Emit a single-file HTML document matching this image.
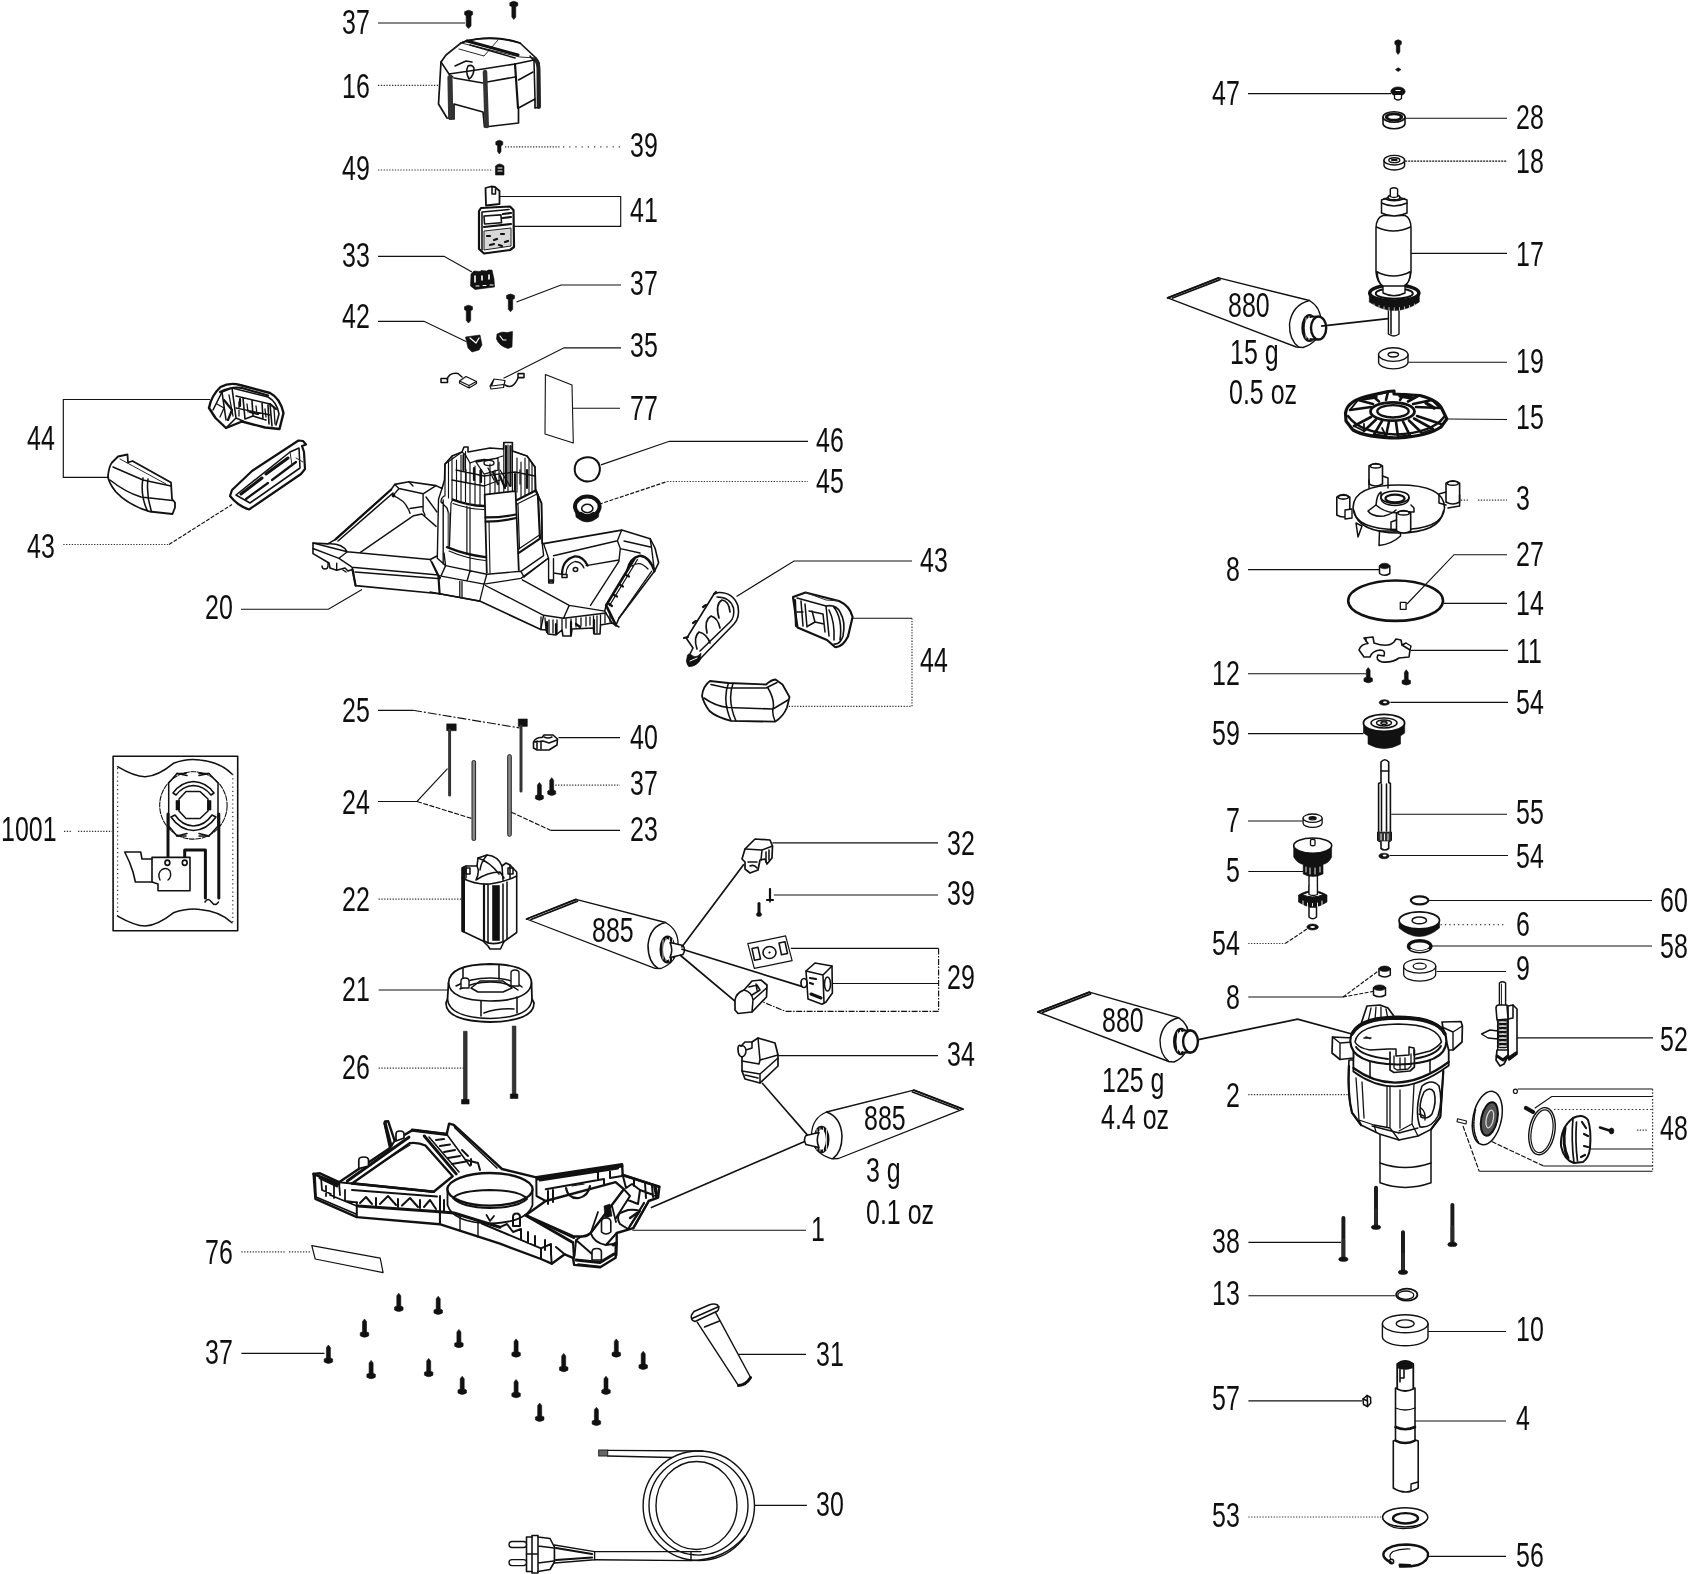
<!DOCTYPE html>
<html><head><meta charset="utf-8"><title>Exploded view</title>
<style>
html,body{margin:0;padding:0;background:#fff;}
svg{display:block;font-family:"Liberation Sans",sans-serif;}
text{fill:#0e0e0e;}
.ld{fill:none;stroke:#111;stroke-width:1.15;}
.dt{fill:none;stroke:#333;stroke-width:1.2;stroke-dasharray:1.3 1.5;}
.o{fill:#fff;stroke:#111;stroke-width:1.7;stroke-linejoin:round;stroke-linecap:round;}
.n{fill:none;stroke:#111;stroke-width:1.55;stroke-linejoin:round;stroke-linecap:round;}
.t{fill:none;stroke:#2a2a2a;stroke-width:1.0;stroke-linejoin:round;stroke-linecap:round;}
.h{fill:none;stroke:#111;stroke-width:2.2;stroke-linejoin:round;stroke-linecap:round;}
.hh{fill:none;stroke:#111;stroke-width:3;stroke-linejoin:round;stroke-linecap:round;}
.f{fill:#111;stroke:#111;stroke-width:0.6;stroke-linejoin:round;}
.g{fill:#777;stroke:#222;stroke-width:1;}
</style></head>
<body>
<svg width="1690" height="1574" viewBox="0 0 1690 1574">
<rect x="0" y="0" width="1690" height="1574" fill="#fff"/>
<g id="topleft">
<polyline class="ld" points="378,23 465,23" />
<path class="f" d="M464.6,11.7 Q468.6,8.7 472.6,11.7 L472.6,14.7 L471.05,15.7 L471.05,26.0 L468.6,28.5 L466.15000000000003,26.0 L466.15000000000003,15.7 L464.6,14.7 Z"/>
<path class="f" d="M509.79999999999995,2.7 Q513.8,-0.30000000000000004 517.8,2.7 L517.8,5.7 L515.75,6.7 L515.75,17.0 L513.8,19.5 L511.84999999999997,17.0 L511.84999999999997,6.7 L509.79999999999995,5.7 Z"/>
<polyline class="dt" points="378,85.3 438,85.3" />
<path class="o" d="M441,62 L446,55 L461,43 Q491,33 520,43 L536,58 L539,63 L540,107 L535,108 L535,99 L518.5,108 L518.5,123 L484.5,127 L483,112 L454,104 L454,119 L447,118 L438.5,104 Z" />
<path class="n" d="M461,43 L467,40.5 Q492,36 512,41 L520,43" />
<path class="t" d="M446,55 L461,43 L520,57 L536,58" />
<path class="t" d="M459,49 L484,56 L498,40" />
<path class="n" d="M441,62 L449,74 L483,69 L515,64 L534,60" />
<path class="n" d="M449,74 L453,77" />
<path class="n" d="M454,78 L483,83 M487,82 L515,77 M518.5,80 L533,72" />
<path class="n" d="M455,66 L466,61 L472,62 M468,66 Q465,72 469,79 Q474,76 474,68 Q472,64 468,66" />
<path class="hh" d="M467,41 L518,55" />
<path class="n" d="M470,45 L515,58" />
<path class="n" d="M450,77.5 L450.7,117.5"  style="stroke-width:5.2;stroke:#333;stroke-dasharray:1.6 0.5"/>
<path class="n" d="M485,72 L486.7,126"  style="stroke-width:4.6;stroke:#333;stroke-dasharray:1.6 0.5"/>
<path class="h" d="M515,64 L518,108" />
<path class="n" d="M535,59 Q538.5,62 538.5,70 L538.7,107"  style="stroke-width:4;stroke:#222"/>
<path class="n" d="M530,56 L534,61 L535,99" />
<path class="f" d="M495.8,141.7 Q499.3,138.7 502.8,141.7 L502.8,144.7 L501.0,145.7 L501.0,151.5 L499.3,154.0 L497.6,151.5 L497.6,145.7 L495.8,144.7 Z"/>
<polyline class="dt" points="505,146.8 560,146.8" />
<polyline class="dt" points="563,146.8 621,146.8"  style="stroke-dasharray:1.2 5"/>
<polyline class="dt" points="378,170 492,170" />
<path class="f" d="M495.5,166 Q499.5,162 504,166 L504,175 L495.5,175 Z" />
<path class="t" d="M498,168 L502,168 M498,171 L502,171"  style="stroke:#fff"/>
<polyline class="ld" points="500,196.5 620.7,196.5 620.7,226.3 513.5,226.3" />
<path class="o" d="M485.5,188 L491,186.5 L495,187 L499.5,191 L499.5,204 L486,205.5 Z"  style="stroke-width:1.8"/>
<path class="n" d="M492,187 L492,194 L495.5,194 L495.5,189" />
<path class="o" d="M479,211 L481,208 L510,206.5 L513.5,210 L514,247 L510,250 L484,253.5 L479,249 Z"  style="stroke-width:2.2"/>
<path class="n" d="M482,212 L509,209.5 M482,212 L482,250" />
<rect class="n" x="484" y="216" width="17" height="8" transform="rotate(-4 484 216)"/>
<path class="h" d="M503,214 L511,213 M503,218 L511,217 M484,227 L511,224" />
<path class="g" d="M484,231 L511,228 L511,246 L484,250 Z"  style="fill:#d8d8d8"/>
<path class="h" d="M487,236 L490,236 M494,240 L497,239 M501,234 L504,234 M505,242 L508,241 M490,245 L494,244 M499,245 L502,246" />
<polyline class="ld" points="378,256.3 444,256.3 472,272" />
<path class="f" d="M471,274 L474,271 L480,271.5 L481,270.5 L487,271 L488,270 L492,270 L494,279 L494.5,287 L475,289.5 L470.5,286 Z" />
<path class="t" d="M475,276 L475,282 M482,276 L482,280 M489,275 L489,279"  style="stroke:#fff;stroke-width:1.6"/>
<path class="t" d="M476,286 L479,286 M483,285.5 L486,285.5 M490,285 L493,285"  style="stroke:#fff;stroke-width:1"/>
<polyline class="ld" points="621,285 561,285 516.5,302" />
<path class="f" d="M506.5,295.5 Q510.5,292.5 514.5,295.5 L514.5,298.5 L512.7,299.5 L512.7,309.3 L510.5,311.8 L508.3,309.3 L508.3,299.5 L506.5,298.5 Z"/>
<path class="f" d="M464.5,306.7 Q468.5,303.7 472.5,306.7 L472.5,309.7 L470.7,310.7 L470.7,320.5 L468.5,323.0 L466.3,320.5 L466.3,310.7 L464.5,309.7 Z"/>
<polyline class="ld" points="378,321.3 424,321.3 466,341.5" />
<path class="f" d="M465.5,337 L480,335 L482,345 L479,350 L472,352 L468,348 Z" />
<path class="t" d="M470,338 L476,343 L479,338"  style="stroke:#fff;stroke-width:1.2"/>
<path class="f" d="M497,334 Q502,331 507,332.5 L512.5,331.5 L512,347 L508,348.5 Q499,346 496.5,339 Z" />
<path class="t" d="M500,336 L503,340 L506,340"  style="stroke:#fff;stroke-width:1.2"/>
<polyline class="ld" points="621,347.8 564,347.8 503.5,378.3" />
<rect class="n" x="441" y="378.5" width="6.5" height="4" />
<path class="n" d="M447,379 Q450,372 458,373.5 L462,377" />
<path class="o" d="M459.5,381 L466,376.5 L476.5,381.5 L476.5,383.5 L469,388 L459.5,383 Z M459.5,381 L469,385.5 L476.5,381.5 M469,385.5 L469,388"  style="stroke-width:1.2"/>
<path class="o" d="M490,386 L494,379 L505,380.5 L503.5,387.5 L491,389 Z M494,379 L491.5,386 L503.5,384.5"  style="stroke-width:1.2"/>
<path class="n" d="M505,385 Q513,390 518,378" />
<rect class="n" x="518" y="373.6" width="6" height="4" />
<path class="o" d="M545.4,374.5 L572,385 L573.3,443 L545,434 Z"  style="stroke-width:1.1"/>
<polyline class="ld" points="573,408.2 620,408.2" />
</g>
<g id="handlesL">
<polyline class="ld" points="210,399.5 63.3,399.5 63.3,477.4 108,477.4" />
<path class="o" d="M209,408 Q211,396 220.5,387 Q230,382 240,385 L270,393 Q280,398 283.5,413 L279.5,429 L265,427.5 L242,421.5 L226,428 L215.5,418 Z"  style="stroke-width:2.4"/>
<path class="n" d="M213,410 L222,392 L232,388 L268,397 Q277,402 279,414 L276,425"  style="stroke-width:1.6"/>
<path class="n" d="M222,392 L226,420 M232,388 L236,418 L226,428 M236,396 L270,404 L272,426 M236,418 L243,421 M243,398 L245,419 M252,401 L253,416 L245,419 M253,416 L266,420 M262,403 L263,419 M268,405 L269,424"  style="stroke-width:1.6"/>
<path class="n" d="M236,408 L270,415 M239,402 L239,416 M247,404 L248,412 M256,406 L257,414 M265,409 L266,417 M274,408 L275,424 M229,395 L233,416 M217,404 L224,408 L220,417"  style="stroke-width:1.3"/>
<path class="h" d="M224,400 L232,410 L228,420 M240,399 L240,406 M250,412 L258,414 M270,404 L276,409" />
<path class="n" d="M220,392 Q232,386 242,388 L268,395.5"  style="stroke-width:2.2"/>
<path class="o" d="M118,456.5 L127.5,454.5 L128,462.5 L132.5,461 L171,482.5 L172,499 L175,502.5 L175,507.5 L172.5,514 L149.5,511.5 Q128,505 116,492 Q108,482 108,476 Q109,466 112,462.5 Z"  style="stroke-width:1.8"/>
<path class="n" d="M113,467 L143,480 L171,486 M110,480 Q125,492 141,497 L172.5,500.5 M143,478 Q140,495 147.5,511 M148,479 Q146,495 151.5,511.5" />
<path class="t" d="M120,459 L166,484" />
<path class="o" d="M298.5,440.5 L303,441 L306,444.5 L302,446 L304,452 L305,469 L301,474 L249,509.5 Q238,506 230,496 L232,490 L252,471 Z"  style="stroke-width:2.2"/>
<path class="n" d="M236,495 L290,452 L299,448 L300,468 L250,503 Z" />
<path class="hh" d="M241,494 L262,478 M266,474 L288,458" />
<path class="h" d="M246,499 L268,483 M272,480 L296,462" />
<path class="t" d="M290,452 L292,465 M296,458 L303,462" />
<polyline class="dt" points="63.3,544.5 169,544.5" />
<polyline class="ld" points="169,544.5 232,504.5"  style="stroke-dasharray:4 1.5"/>
</g>
<g id="housing20">
<polyline class="ld" points="241,609.2 328.4,609.2 362,589.5" />
<path class="o" d="M313,543 L327.8,543.9 L335.5,539.4 L391,489.7 L394.7,484.4 L408.9,481.7 L436,485.6 L442,488.5 L444.5,480 L445,464 L452,456 L462,452 L464,447 L468,447 L468,452 L490,448 L503.5,449 L503.8,442.5 L512.4,442.5 L512.4,451 L527,456 L535,467 L535.8,490.4 L541.5,503.2 L542.2,543 L543.6,543.6 L621.7,530.1 L650.1,538.7 L655,548 L658.6,562.8 L654.4,571.3 L618.9,618.2 L616,625.3 L612,623 L600.5,625 L600,634 L594,634 L593.5,628 L572,629 L571,636 L563,636 L562,630 L556,635 L548,634 L546,630 L540.8,629.5 L479.7,601.1 L439.6,593.8 L355.6,585.6 L352.5,569.5 L348,571 L345,568 L336.7,570.2 L330,568 L329,563 L313,553.6 Z"  style="stroke-width:1.6"/>
<path class="n" d="M313,543 L347.3,551.8 L430.2,559.5 L438.5,577.3 M327.8,543.9 Q342,543 347.3,551.8 M313,548.5 L339,558.3 L352,567.2 L438.5,575 M339,558.3 L347.3,551.8 M336.7,563.1 L336.7,570.2 M352,567.2 L352.5,569.5 M355,572 L437.5,578.5"  style="stroke-width:1.4"/>
<path class="h" d="M352.5,569.5 L355.6,585.6" />
<path class="h" d="M335.5,539.4 L391,489.7" />
<path class="n" d="M338,541 L393,493" />
<path class="n" d="M360.4,552.4 L413.6,515.7 L421.9,514 L436.1,526.4 M392.9,495.6 Q406,500 410,513.4 M410,508.5 L423,506.5 M394.7,484.4 L399,488.5 L423.1,493.8 L436,485.6 M423.1,493.8 L423.1,511 L425,515 M399,488.5 L392.9,495.6 M408.9,481.7 L413,486 M426,497 L437,512"  style="stroke-width:1.4"/>
<ellipse class="n" cx="393.5" cy="495.5" rx="1.2" ry="1.2" />
<path class="n" d="M430.2,559.5 L437,556 M432,562 L440,578" />
<path class="n" d="M322,566 Q322,569 325,569 Q328,569 328,566 L328,563 M343,570 L346,572"  style="stroke-width:1.4"/>
<path class="n" d="M442,488.5 L438.5,499.2 L437.3,558.3 L445.6,565.6 M444.2,496 Q441,498 441,502 L447,508 L448.5,513 M443.2,500 L443.2,564"  style="stroke-width:1.4"/>
<path class="n" d="M448.7,513.4 L448.7,546.5"  style="stroke-width:2.4;stroke:#666"/>
<path class="n" d="M452.7,499.6 Q468,505.5 484,506 M447,547.2 Q466,555 485.4,557.1"  style="stroke-width:2.4"/>
<path class="n" d="M452.7,499.6 L451,503 L449.5,546 M453,503.5 Q468,509 484,509.5 M449,551 Q466,558.5 485.4,560.5 M466.9,506 L466.9,553.6 M470,507 L470,572"  style="stroke-width:1.2"/>
<path class="n" d="M484.7,494.6 L515.2,491.1 M484.7,494.6 L486.8,572.7 M515.6,491.5 L518.8,570"  style="stroke-width:1.8"/>
<path class="n" d="M485.5,517.4 Q501,517.5 515.8,514.5 M485.7,521.6 Q501,521.5 516,518"  style="stroke-width:2.2"/>
<path class="n" d="M489,521.5 L490,573"  style="stroke-width:1.1"/>
<path class="n" d="M516.6,500.3 L535.8,490.4 M518.8,552.9 L540,538.7 M535.8,490.4 L538,496 L540,538.7"  style="stroke-width:2.2"/>
<path class="n" d="M517,504 L536,494.5 M518.7,549 L539.5,535 M518,504 L519.5,549"  style="stroke-width:1.2"/>
<path class="n" d="M535.8,490.4 L541.5,503.2 L542.2,543"  style="stroke-width:1.5"/>
<path class="n" d="M445,464 L445,496 M448.5,462 L448.5,498 M452,456 L452,499 M456.5,460 L456.5,500 M461,455 L461,501 M465.5,451.5 L465.5,502 M470,463 L470,503 M475,466 L475,504 M480,470 L480,505 M484.7,475 L484.7,495 M490,464 L490,494 M495,470 L495,493 M499,462 L499,492.5 M503.8,442.5 L503.8,492 M508,445 L508,492 M512.4,442.5 L512.4,491 M517,458 L517,492 M521,462 L521,497 M525,458 L525,495 M529,460 L529,493 M532,463 L532,492 M535,467 L535,490"  style="stroke-width:1.15"/>
<path class="n" d="M445,464 L462,452 L465.5,455 L470,463 M470,463 Q480,458 490,460 L503,456 M512.4,451 L527,456 L535,467 M456,470 L484,476 L515,472 L535,476 M452,480 L484,486 L500,480 M476,462 L498,458 L498,470 L484,474 Z M466,470 L466,482 M488,468 L494,480 M500,470 L510,486 M520,470 L520,484"  style="stroke-width:1.3"/>
<path class="h" d="M463.5,455 L463.5,470 M506,446 L506,486 M510.5,446 L510.5,486 M474,468 L474,480 M481,470 L481,482 M493,472 L498,484 M500,476 L505,488 M515,474 L515,490 M527,470 L527,488" />
<ellipse class="n" cx="489" cy="463" rx="5" ry="2.6"  style="stroke-width:1.4"/>
<path class="n" d="M444,553 L445.6,565.6 L486.8,574.2 L520.9,571.3 L543.6,555.7 L542.2,543 M438.5,575.6 L484,584.1 L520.9,578.4 L547.9,558.5 M445.6,565.6 L439.6,579 M486.8,574.2 L484,584.1 M520.9,571.3 L524,577 M470,571 L467,581"  style="stroke-width:1.4"/>
<path class="n" d="M430,592 L479.7,601.1 M459.8,581.3 L459.8,597 M484,584.1 L479.7,601.1 M462,581.5 L462,597.5"  style="stroke-width:1.3"/>
<path class="h" d="M438.5,577.3 L439.6,593.8" />
<path class="n" d="M485.4,585.5 L543.6,615.3 L540.8,629.5 M522.3,579.8 L569.2,605.4 L604.7,611.1 M569.2,605.4 L563.5,618.2 M543.6,615.3 L563.5,618.2 L606,613 M524,577 L547.9,558.5"  style="stroke-width:1.4"/>
<path class="n" d="M541,617 L541,629 M545,618 L546,630 M549,620 L549,633 M553,620 L553,633 M557,620 L557,634 M562,619 L562,630 M566,619 L566,628 M571,619 L571,636 M576,618 L576,627 M581,618 L581,626 M586,617 L586,626 M590,617 L590,625 M593.5,616 L593.5,628 M597,616 L597,633 M600.5,615 L600.5,625 M605,614 L605,623 M610,613 L610,622"  style="stroke-width:1.3"/>
<path class="h" d="M547,622 L547,632 M556,624 L556,634 M571,622 L571,635 M576,624 L580,627 M594,620 L594,633" />
<path class="n" d="M543.6,543.6 L548.6,558.5 L548.6,581.3 L553.5,581.3 L553.5,558.5 M553.5,555.7 L617.4,540.8 L621.7,530.1 M617.4,540.8 L620.3,548.6 L640,553 M624,541 L651.5,547.2 L654.4,571.3 M650.1,538.7 L651.5,547.2 M586.2,565.6 L618.9,560 M553.5,573 L562,574.2 M618.9,561.4 L590.5,605.4 M620.3,548.6 L618.9,561.4"  style="stroke-width:1.4"/>
<path class="n" d="M562.1,574.2 Q562,560 574.8,556.4 Q583,556 587.6,565.6"  style="stroke-width:2.2"/>
<path class="n" d="M566,574 Q566.5,564 575,561.5 Q581,561.5 584,568"  style="stroke-width:1.3"/>
<ellipse class="n" cx="575.5" cy="569.5" rx="2.2" ry="2" />
<rect class="n" x="562" y="574.5" width="5" height="3" />
<rect class="n" x="548.8" y="580" width="4.5" height="3" />
<path class="n" d="M627.4,569.9 Q630,558 640.2,555.7 Q650,557 654.4,571.3"  style="stroke-width:2.4"/>
<path class="n" d="M634.5,558.5 L606.1,605.4 L616,625.3"  style="stroke-width:2.6"/>
<path class="n" d="M651.5,571.3 L618.9,618.2 M637.5,559.5 L609.5,605.5 M632,566 Q640,560 648,569"  style="stroke-width:1.3"/>
<path class="h" d="M626,575 L629,576.5 M620,585 L623,586.5 M614,595 L617,596.5 M609,604 L612,606" />
<path class="n" d="M606.1,605.4 L604.7,611.1 L612,623 M616,625.3 L619,627"  style="stroke-width:1.5"/>
</g>
<g id="p4645">
<path class="n" d="M587.3,457.3 Q593,457 597,461 Q600.3,465 599.8,470.5 Q599,476 595,479.5 Q590,482.5 584,481 Q578,479 575.5,474 Q573.5,468 576.5,462.5 Q580,457.8 587.3,457.3 Z"  style="stroke-width:2"/>
<polyline class="ld" points="601,464.9 669.4,441.3 808,441.3" />
<path class="f" d="M575,507 L576,517 Q587,527 598.5,517 L599.6,507 Z" />
<ellipse class="o" cx="587.3" cy="506.5" rx="12.3" ry="10"  style="stroke-width:4"/>
<ellipse class="o" cx="587.3" cy="508.5" rx="5.6" ry="4.2"  style="stroke-width:1.6"/>
<path class="n" d="M581,513 Q587,517.5 593.5,513"  style="stroke-width:2.2"/>
<polyline class="ld" points="599,504.3 667.3,481.5"  style="stroke-dasharray:4 1.5"/>
<polyline class="dt" points="667.3,481.5 808,481.5" />
</g>
<g id="handlesR">
<polyline class="ld" points="912,561 794,561 736.5,596.5" />
<path class="o" d="M718.5,592.5 Q733,592 738,606 Q740,618 734,624 L701,658 Q697,666 689,666 Q685,661 689,656 L693,648 L686.5,638.5 L714,594 Z"  style="stroke-width:1.6"/>
<path class="n" d="M717,597 Q730,597 733.5,608 Q735,617 730,622 L700,651" />
<path class="n" d="M719,618 Q715,604 722,600 Q729,601 730,612 M707,633 Q704,620 711,616 Q718,618 720,628 M697,649 Q693,637 699,632 Q707,634 710,643"  style="stroke-width:1.7"/>
<path class="f" d="M687.5,655 Q689,652.5 693,656 Q697,658 701,653 L700.5,659 Q696,666.5 689,666.5 Q685.5,662 687.5,655 Z" />
<path class="t" d="M690,661 L697,658"  style="stroke:#fff;stroke-width:1"/>
<path class="h" d="M714,594 L716,592 M703,607 L706,605 M693,623 L696,621 M684,638 L688,637" />
<path class="o" d="M793,597 L805.5,592.5 L839,601 Q850,606 852.6,617 L848,636.5 Q842,648 835,647 L827,640 L797.5,627.5 Z"  style="stroke-width:2.2"/>
<path class="n" d="M797,598 L826,606 L829,636 M801,601 L803,626 M797,612 L803,612 M805,604 L807,627 M809,611 L823,614 L825,632 M812,611 L815,622 L824,624 M815,622 L808,626" />
<path class="n" d="M826,606 Q836,604 840,612 Q846,622 843,636 Q840,645 834,644 M829,610 Q835,622 834,640 M833,606 Q843,618 840,640"  style="stroke-width:1.6"/>
<path class="t" d="M805.5,592.5 L826,600 L839,601" />
<path class="h" d="M795,600 L796,626" />
<polyline class="ld" points="852.6,618.2 912,618.2" />
<polyline class="dt" points="912,618.2 912,706.3 788.7,706.3" />
<path class="o" d="M702,696 Q703,686 710,681 L728,683 L766,684.5 Q771,680 775.5,679.5 L782.5,684.5 L789.5,697 L787,707.5 Q783,717 775,721.7 L731,720.8 Q716,717 709.5,711 Q704,704 702,696 Z"  style="stroke-width:1.8"/>
<path class="n" d="M711,684.5 L727,688 L766,688 L777,682.5 M704,698 Q715,706 728,707.5 L773,709 L788,700 M728.5,683 Q722,700 731,720.8 M733,683.5 Q727,700 736,721 M773,709 Q775,700 768,688 M775,721 Q772,714 773,709" />
</g>
<g id="box1001">
<polyline class="dt" points="64,831.4 72,831.4" />
<polyline class="dt" points="78,831.4 112,831.4" />
<rect class="n" x="113.1" y="756.3" width="124.6" height="174.5"  style="stroke-width:1.6"/>
<polyline class="dt" points="117.6,768 117.6,916"  style="stroke-dasharray:1.2 3"/>
<polyline class="dt" points="232.8,774 232.8,922"  style="stroke-dasharray:1.2 3"/>
<path class="n" d="M117.6,766.7 Q135,777 145.4,776.7 Q158,776 173.4,763.3 Q187,758 200,760 Q220,762 232,774" />
<path class="n" d="M117.6,916.1 Q135,926 145.4,926 Q158,925 173.4,912.8 Q187,908 200,909.4 Q220,911 232,922.8" />
<ellipse class="n" cx="193.4" cy="805.4" rx="33.7" ry="33.7"  style="stroke-dasharray:5 1.5;stroke-width:1.1"/>
<path class="n" d="M177,773.5 L186,773.5 M199,773.5 L209,773.5 L218,783 L218,826 L209,836 L199,836 M186,836 L177,836 L168.7,826 L168.7,783 L177,773.5"  style="stroke-width:1.5"/>
<path class="n" d="M177,773.5 L187,775.5 M199,775.5 L209,773.5 M177,836 L187,833.5 M199,833.5 L209,836" />
<path class="n" d="M173,793 Q181,782 193.4,781.5 Q206,782 214,793 M176,795 Q183,786 193.4,785.5 Q204,786 211,795 M176,795 L173,793 M211,795 L214,793" />
<path class="n" d="M171,817 Q180,830 193.4,830.5 Q207,830 216,817 M175,815 Q182,825.5 193.4,826 Q205,825.5 212,815 M171,817 L175,815 M216,817 L212,815"  style="stroke-width:1.6"/>
<path class="n" d="M186,791.5 L200,791.5 L208,799 L208,811 L200,818.5 L186,818.5 L179,811 L179,799 Z"  style="stroke-dasharray:6 1"/>
<rect class="f" x="176" y="800.5" width="3.5" height="9.5" />
<rect class="f" x="207.5" y="800.5" width="3.5" height="9.5" />
<path class="hh" d="M168,814 L168,860" />
<path class="hh" d="M218.8,814 L218.8,898" />
<path class="hh" d="M184.7,860 L184.7,850 L205.4,850 L205.4,898" />
<path class="n" d="M205,902 Q208,897 211.5,902 Q215,907 218.5,902"  style="stroke-width:1.5"/>
<path class="o" d="M152,857.4 L190,857.4 L190,890.7 L158,890.7 L158,884 L152,882 Z"  style="stroke-width:1.6"/>
<polyline class="dt" points="152,858 152,882"  style="stroke-dasharray:1.5 2"/>
<ellipse class="o" cx="167.4" cy="862.7" rx="2.4" ry="2.6" />
<ellipse class="o" cx="184.7" cy="862.7" rx="2.4" ry="2.6" />
<path class="n" d="M160,880 Q157,873 162,869.5 Q167,867 170,871 Q172,877 168,880"  style="stroke-width:1.4"/>
<path class="n" d="M152,859 L142,859 L140.7,852 L124.7,852 Q130,862 133,872 L135.4,882 L152,882"  style="stroke-width:1.6"/>
</g>
<g id="rods">
<polyline class="ld" points="378,710.3 413,710.3" />
<polyline class="ld" points="413,710.3 519.4,727.9"  style="stroke-dasharray:9 2 2 2"/>
<rect class="f" x="446.7" y="723.9" width="9.5" height="6.8" />
<path class="n" d="M449.6,730 L449.6,795"  style="stroke-width:3;stroke:#333;stroke-dasharray:1.5 0.5"/>
<rect class="f" x="518.3" y="719" width="9" height="7.4" />
<path class="n" d="M521,726 L521,791"  style="stroke-width:3;stroke:#333;stroke-dasharray:1.5 0.5"/>
<polyline class="ld" points="378,801.5 417,801.5 447.5,768.6" />
<polyline class="ld" points="417,801.5 472,818.6"  style="stroke-dasharray:5 1.5"/>
<rect class="g" x="472" y="760.5" width="3.6" height="80" rx="1.5" style="fill:#888"/>
<rect class="g" x="507.7" y="754.7" width="3.6" height="81.5" rx="1.5" style="fill:#888"/>
<polyline class="ld" points="511.4,812.2 550.5,830.3"  style="stroke-dasharray:5 1.5"/>
<polyline class="ld" points="550.5,830.3 620,830.3" />
<path class="o" d="M533.5,742 Q536,737 542,737.5 L544,735 L553,735 L557.5,739 L557,745 L549,750 L537,750 L533.5,748 Z"  style="stroke-width:1.6"/>
<path class="n" d="M537,741 L537,749 M541,741 L541,749 M534,742 L543,741 L549,743 L557,740 M544,737 Q548,739 552,737" />
<polyline class="ld" points="558.5,737.6 620,737.6" />
<g transform="rotate(180 539.4 791.5)">
<path class="f" d="M535.4,784.2 Q539.4,781.2 543.4,784.2 L543.4,787.2 L541.35,788.2 L541.35,798.0 L539.4,800.5 L537.4499999999999,798.0 L537.4499999999999,788.2 L535.4,787.2 Z"/>
</g>
<g transform="rotate(180 551.7 786.5)">
<path class="f" d="M547.7,779.0 Q551.7,776.0 555.7,779.0 L555.7,782.0 L553.6500000000001,783.0 L553.6500000000001,792.8 L551.7,795.3 L549.75,792.8 L549.75,783.0 L547.7,782.0 Z"/>
</g>
<polyline class="dt" points="555.3,785.2 620,785.2" />
</g>
<g id="stator">
<polyline class="dt" points="378.6,899.2 461.8,899.2" />
<path class="o" d="M462,868 L462,931 L483,941 L488,946 L490,949 L500.5,949 L504,941.5 L516.7,932.5 L516.7,872 L510,865 L506,863 L502,866 Q498,856 487,855 L478,858 L477,866 L466,866 Z"  style="stroke-width:1.6"/>
<path class="hh" d="M463.5,868 L463.5,931" />
<path class="n" d="M462,878 Q476,885 490,884 Q505,882 516.7,876 M466,866 L466,878 M477,866 Q480,872 476,880 M502,866 L503,880 M478,858 Q490,862 499,874 M476,880 Q488,872 500,872 L504,878 M510,865 L510,878 M487,855 Q481,862 480,870" />
<rect class="n" x="466" y="868" width="4" height="6" />
<rect class="n" x="508" y="868" width="5" height="6" />
<path class="h" d="M484,885 L484,941" />
<rect class="f" x="492.5" y="885.5" width="7" height="55" />
<path class="n" d="M488,885 L488,943 M503,884 L503,941 M507,882 L507,939" />
<path class="n" d="M484,941 Q492,946 504,941.5" />
<polyline class="ld" points="378.6,990 448,990" />
<path class="o" d="M446,1003 Q446,1021 490,1022 Q534,1021 534,1003 L532,999 L531.5,983 Q531,964.5 490,964 Q449,964.5 448.5,983 L447.5,999 Z"  style="stroke-width:1.8"/>
<path class="n" d="M448.5,983 Q450,1000.5 490,1001 Q530,1000.5 531.5,983"  style="stroke-width:1.7"/>
<path class="n" d="M447.5,999 Q449,1017.5 490,1018.5 Q531,1017.5 532,999" />
<path class="n" d="M456,986 Q470,978 490,978 Q512,978 522,987 M460,989 Q474,982 490,982 Q508,982 518,990"  style="stroke-width:1.5"/>
<path class="n" d="M471,988 L480,981 L503,981 L512,988 L503,992 L478,992 Z"  style="stroke-width:1.5"/>
<path class="n" d="M463,968 L463,984 M499,965 L499,979 M481,1001 L481,1016 M517,997 L517,1013 M484,1013 Q498,1008 514,1009" />
<path class="o" d="M461,981 Q461,978 465,978 Q469,978 469,981 L469,988 L461,988 Z M511,973 Q511,970 515,970 Q519,970 519,973 L519,986 L511,986 Z"  style="stroke-width:1.4"/>
<polyline class="dt" points="378.6,1068.1 463.5,1068.1" />
<rect class="f" x="463.5" y="1031.3" width="3.6" height="70"  style="fill:#333"/>
<rect class="f" x="461.5" y="1099.5" width="7.6" height="4.5" />
<rect class="f" x="512.3" y="1026.1" width="3.6" height="70"  style="fill:#333"/>
<rect class="f" x="510.3" y="1094" width="7.6" height="4.5" />
</g>
<g id="tubes">
<path class="o" d="M526.5,919 L576,899.4 L665.5,922.5 Q679,930 678,946 Q677,962 661,968.5 L655,968.4 Z"  style="stroke-width:1.3"/>
<path class="n" d="M531,919.5 L577.5,901.2"  style="stroke-width:1.8"/>
<path class="n" d="M526.5,919 L576,899.4"  style="stroke-width:1.8"/>
<path class="n" d="M665.5,922.5 Q650,926 648,945 Q648,962 658,968.4" />
<ellipse class="o" cx="667.5" cy="949.5" rx="6.2" ry="12.3"  style="stroke-width:3.6"/>
<path class="t" d="M663,940 L663,959 M666,938.5 L666,960.5 M669.5,938 L669.5,961 M672.5,939.5 L672.5,959.5"  style="stroke:#fff;stroke-width:0.8"/>
<path class="o" d="M670,942.5 L683,945.5 Q686,949.5 683,954.5 L670,957.5 Q673.5,950 670,942.5 Z"  style="stroke-width:1.6"/>
<polyline class="ld" points="681.4,947.6 743.9,864.3"  style="stroke-width:1.7"/>
<polyline class="ld" points="681.4,949 802.5,986.6"  style="stroke-width:1.7"/>
<polyline class="ld" points="680,955 736.1,1002.2"  style="stroke-width:1.7"/>
<path class="o" d="M742,859 L745,849 L755,839 L770,840 L772.5,846 L772,858 L767,864 L765,859 L760,860 L758,870 L750,873 L745,869 L745,862 Z"  style="stroke-width:1.7"/>
<path class="n" d="M745,849 L762,850 L772.5,846 M762,850 L761,860 M748,862 L757,862 M750,866 Q754,864 757,868 M766,852 L766,862 M769,850 L769,860" />
<polyline class="ld" points="772.5,842.9 938,842.9" />
<path class="h" d="M770,889 L770,899 M767,900 L773,900" />
<path class="n" d="M770,889 L770,902"  style="stroke-width:1.6"/>
<polyline class="ld" points="773.8,895 938,895" />
<path class="hh" d="M759,903.5 L759,914" />
<ellipse class="f" cx="759" cy="914.5" rx="2.6" ry="2" />
<path class="o" d="M747.8,943.7 L785.6,935.9 L792.1,960.6 L754.3,968.4 Z"  style="stroke-width:1.2"/>
<ellipse class="n" cx="769.5" cy="952.5" rx="6.5" ry="6" />
<ellipse class="f" cx="769.5" cy="952.5" rx="0.8" ry="0.8" />
<path class="n" d="M752,948.5 L758,947.3 L760.5,959 L754.5,960.3 Z M779,943 L785,941.8 L787.5,953.5 L781.5,954.8 Z" />
<polyline class="ld" points="790.8,948.4 938.6,948.4" />
<polyline class="ld" points="832.4,983.5 938.6,983.5" />
<polyline class="ld" points="938.6,948.4 938.6,1011.4 785.6,1011.4 763.4,1002.2"  style="stroke-dasharray:6 1.5 1.5 1.5"/>
<path class="o" d="M806,971 L815,963 L832,966 L832.4,993 L826,1002 L822,1004.3 L808,999 Z"  style="stroke-width:1.6"/>
<path class="n" d="M806,971 L823,975 L832,966 M823,975 L824,1003" />
<ellipse class="n" cx="827.5" cy="984" rx="3" ry="7" />
<ellipse class="o" cx="804" cy="983" rx="3" ry="4.5" />
<path class="h" d="M810,978 L816,979 M810,983 L813,984" />
<path class="hh" d="M811,994 L821,998" />
<path class="o" d="M735,1000 Q736,993 744,990 L752,981 L761,980 L767,985 L766.5,997 L752,1012 L738,1013.5 L735,1010 Z"  style="stroke-width:1.7"/>
<path class="n" d="M744,990 Q752,992 753,1000 L752,1012 M753,1000 L766.5,988 M749,987 L757,985 L760,990 L752,995 M756,984 L757,990" />
<path class="o" d="M741,1046 Q738,1044 738,1049 Q738,1056 742,1057 L742,1071 L745,1079 L760,1083 L778,1066 L778,1055 L775,1043 L758,1038 L752,1042 L745,1042 Z"  style="stroke-width:1.7"/>
<path class="n" d="M741,1046 Q745,1045 746,1050 Q746,1056 742,1057 M746,1050 L752,1048 L752,1042 M758,1038 L760,1060 L778,1055 M742,1061 L759,1064 L760,1060 M742,1071 L760,1074 L778,1058 M760,1074 L760,1083 M745,1075 L758,1078" />
<polyline class="ld" points="779,1055.6 938,1055.6" />
<polyline class="ld" points="762.1,1083 807.7,1135.4"  style="stroke-width:1.6"/>
<path class="o" d="M963,1109.2 L913.8,1090.2 L826.5,1112 Q812,1118 811.5,1135 Q812,1153 832,1158.8 L838.5,1158.5 Z"  style="stroke-width:1.3"/>
<path class="n" d="M958.5,1109.5 L912.5,1092"  style="stroke-width:1.8"/>
<path class="n" d="M963,1109.2 L913.8,1090.2"  style="stroke-width:1.8"/>
<path class="n" d="M826.5,1112 Q841,1117 842,1136 Q842,1152 833,1158.5" />
<ellipse class="o" cx="821.5" cy="1139.5" rx="6.2" ry="12"  style="stroke-width:3.6"/>
<path class="t" d="M817,1129.5 L817,1149.5 M820,1128 L820,1151 M823.5,1128 L823.5,1151 M826.5,1129.5 L826.5,1149.5"  style="stroke:#fff;stroke-width:0.8"/>
<path class="o" d="M819,1132.5 L806,1135.5 Q803,1139.5 806,1144.5 L819,1147.5 Q815.5,1140 819,1132.5 Z"  style="stroke-width:1.6"/>
<polyline class="ld" points="804.6,1141.5 650.8,1207.7"  style="stroke-width:1.6"/>
<polyline class="ld" points="632.3,1230.2 806,1230.2" />
</g>
<g id="base1">
<path class="o" d="M313.6,1174 L320,1173.3 L339,1182.2 L390,1148 L384.6,1123.6 L385,1121.5 L388.2,1121.3 L394.7,1140.8 L412.4,1130.1 L446.7,1134.3 L449.1,1123.6 L453.8,1124.8 L502,1169 L536.3,1177.3 L622.1,1164.3 L622.7,1175 L659.3,1186.8 L658.2,1197.5 L648.7,1201 L633.3,1228.2 L616.7,1233 L616.7,1243.6 L615.6,1257.8 L600.2,1267.3 L574.1,1264.9 L573,1257.8 L564.7,1254.3 L551.7,1263.7 L541,1259 L500,1243.7 L439.6,1224.2 L356.8,1217.1 L315.4,1198.8 Z"  style="stroke-width:2.4"/>
<path class="o" d="M352,1183.4 L410,1143.1 Q418,1142 425.4,1145.5 L452.7,1176.3 L433.7,1191.7 Z"  style="stroke-width:2.4"/>
<path class="n" d="M354,1182 Q385,1160 410,1145"  style="stroke-width:1.3"/>
<path class="o" d="M525.6,1215.2 L545.7,1201 L615.6,1182.1 L623.8,1189.2 L590.7,1233 Q586,1237 581.2,1236.5 L574.1,1236.5 Z"  style="stroke-width:2.4"/>
<path class="o" d="M447.5,1188 L447.5,1205 Q453,1222.5 490,1223.5 Q527,1222.5 532.5,1205 L532.5,1190"  style="stroke-width:1.8"/>
<ellipse class="o" cx="490" cy="1189.3" rx="42.6" ry="16.3"  style="stroke-width:2.4"/>
<path class="n" d="M453,1198 Q460,1190.5 490,1190 Q521,1190.5 527,1199 Q518,1207.5 490,1208 Q462,1207.5 453,1198 Z"  style="stroke-width:1.9"/>
<path class="n" d="M347.3,1181 L408.9,1137.2"  style="stroke-width:3"/>
<path class="n" d="M339,1182.2 L352,1183.4 M390,1148 L394.7,1140.8"  style="stroke-width:2"/>
<path class="n" d="M424.3,1136 L456.2,1173.9"  style="stroke-width:3"/>
<path class="n" d="M429,1137 L459,1172 M446.7,1134.3 L470,1166 M453.8,1124.8 L455,1128 L497,1168"  style="stroke-width:1.6"/>
<path class="n" d="M436,1140 L444,1139 M440,1146 L450,1144.5 M444,1152 L455,1150 M448,1158 L460,1156 M452,1164 L466,1161.5 M462,1150 L468,1156 M466,1160 L478,1163 L480,1170 M471,1159 L471,1165"  style="stroke-width:2"/>
<path class="n" d="M412.4,1130.1 L446.7,1134.3"  style="stroke-width:3.2"/>
<path class="o" d="M358.8,1160 Q358.8,1157 363.7,1157 Q368.5,1157 368.5,1160 L368.5,1166 L358.8,1168.5 Z"  style="stroke-width:1.7"/>
<path class="o" d="M396,1134 Q396,1131 400,1131 Q404,1131 404,1134 L404,1138 L396,1141 Z"  style="stroke-width:1.7"/>
<path class="n" d="M385,1123 L391,1146"  style="stroke-width:3.2"/>
<path class="n" d="M315,1176 L316,1197 M321,1177 L322,1190 L331,1194 M326,1186 L326,1196 M334,1186 L334,1198 M339,1182.2 L340,1195 M345,1190 L345,1201 L356.8,1202.3 M330,1195 L356.8,1206 M316,1197 L356,1214"  style="stroke-width:1.8"/>
<path class="n" d="M320,1178 L337,1186 M313.6,1174 L339,1184"  style="stroke-width:2.8"/>
<path class="n" d="M356.8,1202.3 L356.8,1217.1"  style="stroke-width:2"/>
<path class="n" d="M358,1205.9 L439.6,1211.8 L454,1213 L500,1227.2"  style="stroke-width:3"/>
<path class="n" d="M352,1190 L437,1196.5 M360,1203 L366,1197 L372,1204 M380,1204 L388,1196 L396,1205 M402,1205.5 L410,1198 L418,1207 M424,1207 L430,1200 L436,1209 M376,1198 L376,1206 M398,1199 L398,1207 M420,1200 L420,1208 M440,1196 L440,1224 M444,1200 L444,1212"  style="stroke-width:2"/>
<path class="n" d="M352,1183.4 L433.7,1191.7"  style="stroke-width:2.6"/>
<path class="n" d="M439.6,1211.8 L439.6,1224.2 M460,1216 L460,1231 M478,1221 L478,1237"  style="stroke-width:1.4"/>
<path class="n" d="M536.3,1177.3 L536.5,1196 L545.7,1201 M540,1180.5 L618,1168.5 M545.7,1189.2 L604,1179 L604,1184 M598,1172 L598,1180 M610,1170 L610,1178 L622,1176 M548,1191 L548,1204 M553,1190 L553,1202"  style="stroke-width:2"/>
<path class="n" d="M538,1179 L622,1166"  style="stroke-width:3"/>
<path class="n" d="M566,1188 Q568,1199 579,1198 Q588,1196 590,1186"  style="stroke-width:2.2"/>
<path class="n" d="M572,1186 L584,1184"  style="stroke-width:1.2;stroke-dasharray:2 1"/>
<path class="n" d="M622.7,1175 L626,1188 L632,1184 L640,1190 L638,1204 L628,1200 M634,1180 L634,1186 M645,1183 L646,1198 M652,1186 L653,1197 M640,1190 L656,1196 M623.8,1189.2 L630,1196 L616,1218"  style="stroke-width:2"/>
<path class="n" d="M622.7,1175 L659.3,1186.8"  style="stroke-width:2.6"/>
<path class="n" d="M655,1187 L657,1197"  style="stroke-width:3.6"/>
<path class="n" d="M648.7,1201 L633.3,1228.2 M644,1203 L630,1226"  style="stroke-width:2.2"/>
<path class="n" d="M620,1213 Q616,1218 620,1224 L628,1229 L640,1211 Q634,1209 628,1210 Z"  style="stroke-width:2"/>
<path class="n" d="M630,1218 L637,1213"  style="stroke-width:2.4"/>
<path class="o" d="M601.5,1222 Q601.5,1218 606,1218 Q610.8,1218 610.8,1222 L610.8,1232 Q606,1236 601.5,1232 Z"  style="stroke-width:1.6"/>
<path class="f" d="M604,1206 L610,1204 L612,1216 L605,1218 Z" />
<path class="n" d="M612,1206 L616,1222 M598,1212 L590.7,1233"  style="stroke-width:1.8"/>
<path class="n" d="M590.7,1233 Q594,1243 606,1245 L616.7,1243.6 M581.2,1236.5 L576,1240 L574.5,1256 M576,1240 L592,1254 M616.7,1233 L606,1245"  style="stroke-width:2"/>
<path class="o" d="M592,1252 Q592,1248.5 596.7,1248.5 Q601.4,1248.5 601.4,1252 L601.4,1260 L592,1260 Z"  style="stroke-width:1.6"/>
<path class="n" d="M576,1260 L600,1262.5 L614,1254"  style="stroke-width:3"/>
<path class="n" d="M578,1264 L600,1266.5"  style="stroke-width:1.4"/>
<path class="n" d="M613,1245 L616,1243 L616,1255"  style="stroke-width:3"/>
<path class="n" d="M481.8,1223.5 L541,1248.3 L541,1259 M527,1216 L574,1238 M500,1227.2 L507,1224 L513,1232 L521,1229 M513,1217 Q513,1213.5 516.5,1213.5 Q520,1213.5 520,1217 L520,1226 L513,1226 Z M521,1229 L521,1240 M528,1232 L528,1243 M535,1236 L535,1246 M541,1248.3 L551,1244 L551,1254 M545,1240 L545,1250 M556,1247 L564.7,1254.3 M551.7,1263.7 L551,1254"  style="stroke-width:2"/>
<path class="n" d="M525.6,1215.2 L572,1242"  style="stroke-width:3"/>
<path class="n" d="M486.5,1215 L490,1221 L494,1216"  style="stroke-width:1.8"/>
<path class="n" d="M573,1242 L574,1258"  style="stroke-width:2.2"/>
</g>
<g id="bottomL">
<polyline class="dt" points="241.4,1251.9 285,1251.9" />
<polyline class="dt" points="289,1251.9 310,1251.9" />
<path class="o" d="M311.8,1245.7 L380.2,1258.1 L383.1,1272.6 L315.2,1259 Z"  style="stroke-width:1.2"/>
<polyline class="ld" points="241.4,1353.4 324.5,1353.4" />
<g transform="rotate(180 398.8 1302.3)">
<path class="f" d="M394.55,1294.5 Q398.8,1291.5 403.05,1294.5 L403.05,1297.5 L400.8,1298.5 L400.8,1308.8 L398.8,1311.3 L396.8,1308.8 L396.8,1298.5 L394.55,1297.5 Z"/>
</g>
<g transform="rotate(180 438.2 1305.2)">
<path class="f" d="M433.95,1297.4 Q438.2,1294.4 442.45,1297.4 L442.45,1300.4 L440.2,1301.4 L440.2,1311.7 L438.2,1314.2 L436.2,1311.7 L436.2,1301.4 L433.95,1300.4 Z"/>
</g>
<g transform="rotate(180 364.5 1328)">
<path class="f" d="M360.25,1320.2 Q364.5,1317.2 368.75,1320.2 L368.75,1323.2 L366.5,1324.2 L366.5,1334.5 L364.5,1337 L362.5,1334.5 L362.5,1324.2 L360.25,1323.2 Z"/>
</g>
<g transform="rotate(180 458.9 1338.4)">
<path class="f" d="M454.65,1330.6000000000001 Q458.9,1327.6000000000001 463.15,1330.6000000000001 L463.15,1333.6000000000001 L460.9,1334.6000000000001 L460.9,1344.9 L458.9,1347.4 L456.9,1344.9 L456.9,1334.6000000000001 L454.65,1333.6000000000001 Z"/>
</g>
<g transform="rotate(180 328.4 1354.1)">
<path class="f" d="M324.15,1346.3 Q328.4,1343.3 332.65,1346.3 L332.65,1349.3 L330.4,1350.3 L330.4,1360.6 L328.4,1363.1 L326.4,1360.6 L326.4,1350.3 L324.15,1349.3 Z"/>
</g>
<g transform="rotate(180 516.1 1347.9)">
<path class="f" d="M511.85,1340.1000000000001 Q516.1,1337.1000000000001 520.35,1340.1000000000001 L520.35,1343.1000000000001 L518.1,1344.1000000000001 L518.1,1354.4 L516.1,1356.9 L514.1,1354.4 L514.1,1344.1000000000001 L511.85,1343.1000000000001 Z"/>
</g>
<g transform="rotate(180 616.3 1347.9)">
<path class="f" d="M612.05,1340.1000000000001 Q616.3,1337.1000000000001 620.55,1340.1000000000001 L620.55,1343.1000000000001 L618.3,1344.1000000000001 L618.3,1354.4 L616.3,1356.9 L614.3,1354.4 L614.3,1344.1000000000001 L612.05,1343.1000000000001 Z"/>
</g>
<g transform="rotate(180 563.7 1362.4)">
<path class="f" d="M559.45,1354.6000000000001 Q563.7,1351.6000000000001 567.95,1354.6000000000001 L567.95,1357.6000000000001 L565.7,1358.6000000000001 L565.7,1368.9 L563.7,1371.4 L561.7,1368.9 L561.7,1358.6000000000001 L559.45,1357.6000000000001 Z"/>
</g>
<g transform="rotate(180 643.2 1360.3)">
<path class="f" d="M638.95,1352.5 Q643.2,1349.5 647.45,1352.5 L647.45,1355.5 L645.2,1356.5 L645.2,1366.8 L643.2,1369.3 L641.2,1366.8 L641.2,1356.5 L638.95,1355.5 Z"/>
</g>
<g transform="rotate(180 371.1 1369.4)">
<path class="f" d="M366.85,1361.6000000000001 Q371.1,1358.6000000000001 375.35,1361.6000000000001 L375.35,1364.6000000000001 L373.1,1365.6000000000001 L373.1,1375.9 L371.1,1378.4 L369.1,1375.9 L369.1,1365.6000000000001 L366.85,1364.6000000000001 Z"/>
</g>
<g transform="rotate(180 428.7 1367.4)">
<path class="f" d="M424.45,1359.6000000000001 Q428.7,1356.6000000000001 432.95,1359.6000000000001 L432.95,1362.6000000000001 L430.7,1363.6000000000001 L430.7,1373.9 L428.7,1376.4 L426.7,1373.9 L426.7,1363.6000000000001 L424.45,1362.6000000000001 Z"/>
</g>
<g transform="rotate(180 462.2 1385.2)">
<path class="f" d="M457.95,1377.4 Q462.2,1374.4 466.45,1377.4 L466.45,1380.4 L464.2,1381.4 L464.2,1391.7 L462.2,1394.2 L460.2,1391.7 L460.2,1381.4 L457.95,1380.4 Z"/>
</g>
<g transform="rotate(180 516.1 1388.5)">
<path class="f" d="M511.85,1380.7 Q516.1,1377.7 520.35,1380.7 L520.35,1383.7 L518.1,1384.7 L518.1,1395.0 L516.1,1397.5 L514.1,1395.0 L514.1,1384.7 L511.85,1383.7 Z"/>
</g>
<g transform="rotate(180 606 1385.2)">
<path class="f" d="M601.75,1377.4 Q606,1374.4 610.25,1377.4 L610.25,1380.4 L608.0,1381.4 L608.0,1391.7 L606,1394.2 L604.0,1391.7 L604.0,1381.4 L601.75,1380.4 Z"/>
</g>
<g transform="rotate(180 539.7 1412.1)">
<path class="f" d="M535.45,1404.3 Q539.7,1401.3 543.95,1404.3 L543.95,1407.3 L541.7,1408.3 L541.7,1418.6 L539.7,1421.1 L537.7,1418.6 L537.7,1408.3 L535.45,1407.3 Z"/>
</g>
<g transform="rotate(180 596.4 1416.3)">
<path class="f" d="M592.15,1408.5 Q596.4,1405.5 600.65,1408.5 L600.65,1411.5 L598.4,1412.5 L598.4,1422.8 L596.4,1425.3 L594.4,1422.8 L594.4,1412.5 L592.15,1411.5 Z"/>
</g>
<path class="o" d="M697.2,1322.2 L738.5,1385.6 Q746,1386 750.6,1377.5 L715.4,1312.1"  style="stroke-width:1.4"/>
<path class="hh" d="M738.5,1385.6 Q746,1385 750.6,1377.5" />
<path class="o" d="M691.5,1315 Q690,1320 695,1321.5 L717.5,1311 Q720,1308 717.5,1305 Q714,1303 709,1305 L694,1311.5 Z"  style="stroke-width:1.5"/>
<path class="n" d="M692,1318.5 L719,1306.5 M704.5,1327 L719.5,1321" />
<polyline class="ld" points="738.5,1354.4 806,1354.4" />
<path class="n" d="M607.7,1450.4 L703,1451 M607.7,1456 L672,1457.5"  style="stroke-width:1.4"/>
<rect class="g" x="598.7" y="1450" width="9" height="6"  style="fill:#666"/>
<ellipse class="n" cx="698.8" cy="1505.8" rx="55.7" ry="54.8"  style="stroke-width:1.4"/>
<ellipse class="n" cx="698.5" cy="1505.6" rx="49.5" ry="49.5"  style="stroke-width:1.4"/>
<ellipse class="n" cx="696.5" cy="1505.5" rx="40.5" ry="44"  style="stroke-width:1.4"/>
<path class="n" d="M594.6,1551.6 L701,1551.6 M594.6,1559.8 L691,1560.6 M691,1552 L691,1560.6"  style="stroke-width:1.4"/>
<path class="n" d="M691,1560.6 Q725,1560 745,1536"  style="stroke-width:1.4"/>
<path class="o" d="M554.4,1545 L594.6,1551.6 L594.6,1559.8 L554.4,1563 Z"  style="stroke-width:1.4"/>
<path class="h" d="M556,1548 L592,1554 M556,1560 L592,1557.5" />
<path class="o" d="M526.5,1537 L532,1537 L532,1535.5 L538,1535.5 L538,1537 L550,1538.5 L554.4,1547 L554.4,1562 L550,1569.5 L538,1571.5 L538,1573 L532,1573 L532,1571.5 L526.5,1571.5 Z"  style="stroke-width:1.6"/>
<path class="n" d="M532,1537 L532,1571.5 M538,1537 L538,1571.5 M526.5,1554 L538,1554 M538,1546 L554,1548 M538,1563 L554,1561" />
<rect class="o" x="509" y="1541.5" width="17.5" height="6" rx="3" style="stroke-width:1.4"/>
<rect class="o" x="509" y="1559.6" width="17.5" height="6" rx="3" style="stroke-width:1.4"/>
<polyline class="ld" points="755,1505.4 806.9,1505.4" />
</g>
<g id="rtop">
<path class="f" d="M1394.85,41.2 Q1398.1,38.2 1401.35,41.2 L1401.35,44.2 L1399.8999999999999,45.2 L1399.8999999999999,52.0 L1398.1,54.5 L1396.3,52.0 L1396.3,45.2 L1394.85,44.2 Z"/>
<path class="f" d="M1395.5,69.6 L1398.2,67.8 L1401,69.6 L1398.2,71.6 Z" />
<polyline class="ld" points="1248,93.6 1391,93.6" />
<ellipse class="f" cx="1398" cy="91.5" rx="7.2" ry="4.6" />
<path class="o" d="M1394.5,95 L1394.5,98.5 Q1398,101.5 1401.5,98.5 L1401.5,95"  style="stroke-width:1.3"/>
<path class="t" d="M1396,90.5 L1400,90.5"  style="stroke:#fff;stroke-width:1.2"/>
<path class="o" d="M1383,117 L1383,123.5 A11,5.3 0 0 0 1405,123.5 L1405,117"  style="stroke-width:1.6"/>
<ellipse class="o" cx="1394" cy="117" rx="11" ry="5.3"  style="stroke-width:1.6"/>
<ellipse class="n" cx="1394" cy="117" rx="6.5" ry="2.6"  style="stroke-width:1.6"/>
<ellipse class="n" cx="1394" cy="117" rx="8.2" ry="3.6"  style="stroke-width:2"/>
<polyline class="ld" points="1405.2,118.2 1507,118.2" />
<path class="o" d="M1384.0,160.2 L1384.0,165.2 A10.3,4.8 0 0 0 1404.6,165.2 L1404.6,160.2"  style="stroke-width:1.4"/>
<ellipse class="o" cx="1394.3" cy="160.2" rx="10.3" ry="4.8"  style="stroke-width:1.4"/>
<ellipse class="n" cx="1394.3" cy="160.2" rx="5.5" ry="2.4"  style="stroke-width:1.4"/>
<path class="h" d="M1392,160 L1396.5,160" />
<polyline class="ld" points="1405.2,161.1 1507,161.1"  style="stroke-dasharray:2 1"/>
</g>
<g id="arm17">
<path class="o" d="M1388.4,308 L1388.4,334 Q1393.7,338 1399,334 L1399,308 Z"  style="stroke-width:1.4"/>
<path class="n" d="M1391,310 L1391,334" />
<path class="o" d="M1376,228 Q1376,218 1383,215.5 L1405,215.5 Q1411,218 1411,228 L1411,272 Q1410,283 1404,286 L1383,286 Q1377,283 1376,272 Z"  style="stroke-width:1.5"/>
<path class="n" d="M1376.5,227 Q1393.5,235 1410.5,227 M1377,272 Q1393.5,280 1410,272" />
<path class="o" d="M1381.5,200 L1381.5,213 Q1394,219 1407,213 L1407,200 Q1394,194 1381.5,200 Z"  style="stroke-width:1.5"/>
<path class="n" d="M1381.5,203 Q1394,209 1407,203 M1384,198.5 Q1394,203 1404.5,198.5" />
<ellipse class="o" cx="1394" cy="197.5" rx="6" ry="2.4" />
<path class="o" d="M1390.3,189 L1390.3,196.5 Q1394,198.5 1397.6,196.5 L1397.6,189 Q1394,186.5 1390.3,189 Z"  style="stroke-width:1.4"/>
<path class="f" d="M1369.3,293 L1369.3,302 Q1394.3,319 1419.3,302 L1419.3,293 Z" />
<ellipse class="o" cx="1394.3" cy="293" rx="24.6" ry="8"  style="stroke-width:3.6"/>
<ellipse class="n" cx="1394.3" cy="293.5" rx="18.5" ry="5.2"  style="stroke-width:2"/>
<path class="t" d="M1374,304 L1374,306.5 M1379,305.5 L1379,308.5 M1384,306.8 L1384,309.8 M1389,307.5 L1389,310.5 M1394.3,307.8 L1394.3,310.8 M1399.5,307.5 L1399.5,310.5 M1404.5,306.8 L1404.5,309.8 M1409.5,305.5 L1409.5,308.5 M1414.5,304 L1414.5,306.5"  style="stroke:#ddd;stroke-width:0.8"/>
<path class="o" d="M1383,285 L1383,293 Q1394,298.5 1405,293 L1405,285"  style="stroke-width:1.4"/>
<path class="o" d="M1377,272 Q1378,283 1383,286 L1404,286 Q1410,283 1410.5,272"  style="stroke-width:1.5"/>
<path class="n" d="M1377,272 Q1393.5,280 1410,272" />
<polyline class="ld" points="1411,253.3 1507,253.3" />
<path class="o" d="M1167.6,297.8 L1218.7,277.9 L1309.5,300.5 Q1322,308 1321,325 Q1320,342 1303,347.5 L1296.3,347 Z"  style="stroke-width:1.4"/>
<path class="n" d="M1172.5,298 L1220,279.7"  style="stroke-width:1.8"/>
<path class="n" d="M1167.6,297.8 L1218.7,277.9"  style="stroke-width:1.8"/>
<path class="n" d="M1309.5,300.5 Q1292,305 1289.5,324 Q1289,340 1299,347.3"  style="stroke-width:1.4"/>
<ellipse class="o" cx="1309.5" cy="328" rx="6.5" ry="12.3"  style="stroke-width:3.4"/>
<path class="t" d="M1306,318 L1306,338 M1309,316.5 L1309,339.5 M1312,316 L1312,340"  style="stroke:#fff;stroke-width:0.8"/>
<path class="o" d="M1311,316.6 L1318.6,316.6 L1318.6,339.4 L1311,339.4 Z"  style="stroke:none"/>
<path class="n" d="M1311,316.8 L1318.6,316.6 M1311,339.2 L1318.6,339.4"  style="stroke-width:2"/>
<ellipse class="o" cx="1318.6" cy="328" rx="7.6" ry="11.4"  style="stroke-width:2.4"/>
<polyline class="ld" points="1321,326.2 1388.2,318.6"  style="stroke-width:1.7"/>
<path class="o" d="M1378.6,354.6 L1378.6,362.1 A14.7,6.8 0 0 0 1408.0,362.1 L1408.0,354.6"  style="stroke-width:1.4"/>
<ellipse class="o" cx="1393.3" cy="354.6" rx="14.7" ry="6.8"  style="stroke-width:1.4"/>
<ellipse class="n" cx="1393.3" cy="354.6" rx="5.2" ry="2.4"  style="stroke-width:1.4"/>
<polyline class="ld" points="1408.1,362.2 1507,362.2" />
</g>
<g id="fan15">
<path class="o" d="M1345.5,413 Q1347,400 1372,395 L1388,391.5 L1394,391 L1394,394 L1420,395.5 Q1438,400 1442,409 L1446.8,419 L1441,427 Q1428,436 1398,438 Q1366,437.5 1353,430 L1346,421 Z"  style="stroke-width:3.2"/>
<path class="n" d="M1371,417 L1354,426"  style="stroke-width:2.6"/>
<path class="n" d="M1376,419.5 L1364,431"  style="stroke-width:2.6"/>
<path class="n" d="M1382,421 L1374,434.5"  style="stroke-width:2.6"/>
<path class="n" d="M1389,421.5 L1386,436"  style="stroke-width:2.6"/>
<path class="n" d="M1396,422 L1398,436.5"  style="stroke-width:2.6"/>
<path class="n" d="M1403,421.5 L1410,435.5"  style="stroke-width:2.6"/>
<path class="n" d="M1409,420.5 L1422,433"  style="stroke-width:2.6"/>
<path class="n" d="M1414,418.5 L1433,429"  style="stroke-width:2.6"/>
<path class="n" d="M1417,416 L1441,424"  style="stroke-width:2.6"/>
<path class="n" d="M1354,426 L1364,431 L1364,424 M1374,434.5 L1386,436 L1382,428 M1398,436.5 L1410,435.5 L1406,428 M1422,433 L1433,429 L1424,424"  style="stroke-width:1.8"/>
<path class="n" d="M1371,407 L1350,410"  style="stroke-width:2.6"/>
<path class="n" d="M1373,404 L1358,400"  style="stroke-width:2.6"/>
<path class="n" d="M1379,401.5 L1372,395.5"  style="stroke-width:2.6"/>
<path class="n" d="M1386,400 L1388,392"  style="stroke-width:2.6"/>
<path class="n" d="M1400,400 L1404,394"  style="stroke-width:2.6"/>
<path class="n" d="M1408,401.5 L1418,396"  style="stroke-width:2.6"/>
<path class="n" d="M1413,404 L1432,400"  style="stroke-width:2.6"/>
<path class="n" d="M1416,407 L1440,408"  style="stroke-width:2.6"/>
<path class="n" d="M1350,410 L1358,400 M1372,395.5 L1388,392 M1404,394 L1418,396 M1432,400 L1440,408"  style="stroke-width:2"/>
<path class="n" d="M1348,416 Q1360,433 1396,434.5 Q1432,433 1444,417"  style="stroke-width:2.4"/>
<path class="n" d="M1362,399 L1376,397 M1400,396 L1412,398 M1426,403 L1434,408"  style="stroke-width:3.4"/>
<ellipse class="o" cx="1392.5" cy="411.5" rx="22" ry="9.1"  style="stroke-width:2.8"/>
<ellipse class="o" cx="1393" cy="411.3" rx="15.7" ry="6.2"  style="stroke-width:2.4"/>
<polyline class="ld" points="1446.8,419 1507,419.5" />
</g>
<g id="p3">
<polyline class="dt" points="1461,500.1 1469,500.1" />
<polyline class="dt" points="1478,500.1 1507,500.1" />
<path class="o" d="M1379.5,531 L1379,545.5 Q1392,544 1400.5,536 L1400.5,531 Z"  style="stroke-width:1.5"/>
<path class="o" d="M1356,523 L1358,537 L1362,526 Z"  style="stroke-width:1.5"/>
<path class="o" d="M1353.1,507.3 Q1353.5,529.5 1398.8,529.5 Q1444,529.5 1444.5,507.3 Q1444,485 1398.8,485 Q1353.5,485 1353.1,507.3 Z"  style="stroke-width:1.6"/>
<path class="n" d="M1354,511 Q1358,532.5 1398.8,533 Q1440,532.5 1443.5,511"  style="stroke-width:1.6"/>
<path class="o" d="M1369,466.0 L1369,484 Q1375.75,488 1382.5,484 L1382.5,466.0 Q1375.75,461.0 1369,466.0 Z"  style="stroke-width:1.6"/>
<ellipse class="n" cx="1375.75" cy="466.0" rx="5.45" ry="2" />
<path class="n" d="M1382.5,476 L1388,478 L1388,488 M1369,480 L1369,488"  style="stroke-width:1.5"/>
<path class="o" d="M1336.8,497.1 L1336.8,515 Q1343.3,519 1349.8,515 L1349.8,497.1 Q1343.3,492.1 1336.8,497.1 Z"  style="stroke-width:1.6"/>
<ellipse class="n" cx="1343.3" cy="497.1" rx="5.2" ry="2" />
<path class="o" d="M1345,510 L1352,509 L1352,518 L1345,519 Z"  style="stroke-width:1.4"/>
<path class="o" d="M1446,483.2 L1446,502 Q1452.8,506 1459.6,502 L1459.6,483.2 Q1452.8,478.2 1446,483.2 Z"  style="stroke-width:1.6"/>
<ellipse class="n" cx="1452.8" cy="483.2" rx="5.499999999999955" ry="2" />
<path class="n" d="M1446,492 L1439,494 L1439,503 L1446,505 M1459.6,495 L1459.6,506 L1448,508"  style="stroke-width:1.5"/>
<path class="n" d="M1376,505 Q1377,494 1381,492 L1381,498 M1411,505 L1414,508 L1414,512 L1410,512 M1376,505 Q1372,508 1368,511 Q1372,517 1384,516 Q1392,514 1396,510"  style="stroke-width:1.5"/>
<path class="n" d="M1381,497.5 Q1381,505 1395,505.5 Q1409,505 1409,497.5"  style="stroke-width:1.5"/>
<ellipse class="o" cx="1395" cy="497.2" rx="14" ry="6.2"  style="stroke-width:1.7"/>
<ellipse class="n" cx="1395" cy="498.5" rx="9.5" ry="3.8"  style="stroke-width:2.2"/>
<path class="n" d="M1376,505 Q1385,513 1398,513 L1410,512"  style="stroke-width:1.4"/>
<path class="o" d="M1396.5,513.0 L1396.5,531 Q1403.6,535 1410.7,531 L1410.7,513.0 Q1403.6,508.0 1396.5,513.0 Z"  style="stroke-width:1.6"/>
<ellipse class="n" cx="1403.6" cy="513.0" rx="5.800000000000023" ry="2" />
<path class="n" d="M1396.5,520 L1391,522 L1391,530 L1396.5,531"  style="stroke-width:1.5"/>
</g>
<g id="p8_14">
<polyline class="ld" points="1248,569.6 1379,569.6" />
<path class="o" d="M1379.5,566 L1379.5,573.5 Q1384.5,577 1389.8,573.5 L1389.8,566 Z"  style="stroke-width:1.5"/>
<ellipse class="f" cx="1384.6" cy="566" rx="5.2" ry="2.8" />
<ellipse class="n" cx="1395.6" cy="600.7" rx="47.4" ry="20.2"  style="stroke-width:2.6"/>
<polyline class="ld" points="1444,603.3 1507,603.3" />
<rect class="o" x="1400.3" y="602.3" width="5.8" height="7"  style="stroke-width:1.3"/>
<polyline class="ld" points="1407,604 1454,554.7 1507,554.7" />
</g>
<g id="p11_55">
<path class="o" d="M1359,650 Q1361,644 1368,643.5 L1364,638 L1373,637 L1374,643 Q1388,648 1394,642 L1396,639 L1401,640 L1402,645 L1410,650 L1409,657 L1399,658 Q1392,663 1382,662 Q1375,660 1378,655 L1384,656 Q1386,650 1380,650 Q1372,651 1370,657 L1364,657 Z"  style="stroke-width:1.6"/>
<path class="n" d="M1366,637.5 L1366,641 M1402,645 L1406,643 L1411,646 L1410,650"  style="stroke-width:1.4"/>
<polyline class="ld" points="1411,650.3 1508,650.3" />
<polyline class="ld" points="1248,673.7 1366,673.7" />
<g transform="rotate(180 1368.2 675)">
<path class="f" d="M1363.95,668.7 Q1368.2,665.7 1372.45,668.7 L1372.45,671.7 L1370.1000000000001,672.7 L1370.1000000000001,680.0 L1368.2,682.5 L1366.3,680.0 L1366.3,672.7 L1363.95,671.7 Z"/>
</g>
<g transform="rotate(180 1406.3 677.3)">
<path class="f" d="M1402.05,671.0 Q1406.3,668.0 1410.55,671.0 L1410.55,674.0 L1408.2,675.0 L1408.2,682.3 L1406.3,684.8 L1404.3999999999999,682.3 L1404.3999999999999,675.0 L1402.05,674.0 Z"/>
</g>
<ellipse class="f" cx="1384.4" cy="702.5" rx="5.2" ry="2.8" />
<ellipse class="o" cx="1385" cy="702.3" rx="2" ry="1"  style="stroke:none"/>
<polyline class="ld" points="1390.4,702.3 1508,702.3" />
<path class="f" d="M1363.5,723 L1363.5,733 L1368,736 L1368,744 Q1384,753 1400.5,744 L1400.5,736 L1404.7,733 L1404.7,723 Z" />
<ellipse class="o" cx="1384" cy="722.9" rx="20.6" ry="8.6"  style="stroke-width:1.8"/>
<ellipse class="n" cx="1384" cy="722.9" rx="13" ry="5" />
<ellipse class="n" cx="1384" cy="722.9" rx="7.5" ry="3"  style="stroke-width:1.5"/>
<ellipse class="n" cx="1384" cy="722.9" rx="3" ry="1.3" />
<polyline class="ld" points="1248,733.6 1363.5,733.6" />
<path class="o" d="M1381,762 Q1384.8,757.5 1388.7,762 L1388.7,782.5 L1390.4,783.5 L1390.4,831.7 L1391.2,832.5 L1391.2,840 L1388.7,842 L1388.7,848.5 Q1384.8,851.5 1381,848.5 L1381,842 L1377.8,840 L1377.8,832.5 L1378.6,831.7 L1378.6,783.5 L1381,782.5 Z"  style="stroke-width:1.6"/>
<path class="n" d="M1381.5,784 L1381.5,831 M1386.5,784 L1386.5,831" />
<path class="n" d="M1381,771 L1388.7,771" />
<rect class="f" x="1378" y="832" width="13" height="9"  style="fill:#333"/>
<path class="t" d="M1381,834 L1381,840 M1384.5,834 L1384.5,840 M1388,834 L1388,840"  style="stroke:#fff;stroke-width:0.9"/>
<polyline class="ld" points="1391.2,814.2 1507,814.2" />
<ellipse class="f" cx="1384" cy="856" rx="5.2" ry="2.8" />
<ellipse class="o" cx="1384.6" cy="855.6" rx="2" ry="1"  style="stroke:none"/>
<polyline class="ld" points="1389.6,855.5 1508,855.5" />
</g>
<g id="p7_5">
<polyline class="ld" points="1248,821 1303,821" />
<path class="o" d="M1303.1,818.2 L1303.1,823.2 A9.5,4.2 0 0 0 1322.1,823.2 L1322.1,818.2"  style="stroke-width:1.3"/>
<ellipse class="o" cx="1312.6" cy="818.2" rx="9.5" ry="4.2"  style="stroke-width:1.3"/>
<ellipse class="n" cx="1312.6" cy="818.2" rx="3.5" ry="1.6"  style="stroke-width:1.3"/>
<path class="h" d="M1310.5,818 L1314.7,818" />
<polyline class="ld" points="1248.3,871.5 1303.2,871.5" />
<path class="o" d="M1309,875 L1309,892 L1317.4,892 L1317.4,875 Z"  style="stroke-width:1.4"/>
<path class="f" d="M1293.7,845.6 L1293.7,857 Q1297,863 1303.2,864.5 L1303.2,874 Q1313,879 1323,874 L1323,864.5 Q1329,863 1331.6,857 L1331.6,845.6 Z" />
<ellipse class="o" cx="1312.7" cy="845.6" rx="19" ry="7.6"  style="stroke-width:1.6"/>
<path class="o" d="M1310.5,840 L1310.5,845 Q1312.7,846.5 1315,845 L1315,840 Q1312.7,838.5 1310.5,840 Z"  style="stroke-width:1.3"/>
<path class="t" d="M1306,867 L1306,872 M1310,868 L1310,874 M1315,868 L1315,874 M1320,867 L1320,872"  style="stroke:#fff;stroke-width:0.9"/>
<path class="f" d="M1298.5,895 L1298.5,902 Q1312.7,912 1327,902 L1327,895 Q1312.7,886 1298.5,895 Z" />
<path class="o" d="M1302,894.5 Q1312.7,889.5 1323.5,894.5 Q1312.7,899.5 1302,894.5 Z"  style="stroke-width:1"/>
<path class="o" d="M1309,886 L1309,894.5 Q1313,896.5 1317.4,894.5 L1317.4,886"  style="stroke-width:1.3"/>
<path class="t" d="M1303,901 L1303,905 M1307.5,903 L1307.5,907 M1312.5,903.5 L1312.5,908 M1317.5,903 L1317.5,907 M1322,901 L1322,905"  style="stroke:#fff;stroke-width:0.9"/>
<path class="o" d="M1309,907 L1309,917 Q1312.7,920.5 1316.5,917 L1316.5,907 Z"  style="stroke-width:1.5"/>
<ellipse class="f" cx="1312.6" cy="927" rx="5.8" ry="3" />
<ellipse class="o" cx="1312.6" cy="927" rx="2.4" ry="1"  style="stroke:none"/>
<polyline class="dt" points="1248.3,943.5 1285.2,943.5" />
<polyline class="ld" points="1285.2,943.5 1307,929"  style="stroke-dasharray:4 1.5"/>
</g>
<g id="p60_9">
<ellipse class="n" cx="1419.6" cy="900.3" rx="8.8" ry="4"  style="stroke-width:2.2"/>
<polyline class="ld" points="1429.1,900.5 1652,900.5" />
<path class="f" d="M1399,920.4 L1399,928 Q1419.3,945 1439.5,928 L1439.5,920.4 Z" />
<ellipse class="o" cx="1419.3" cy="920.4" rx="20.2" ry="8.5"  style="stroke-width:1.7"/>
<ellipse class="n" cx="1419.3" cy="920.4" rx="7.2" ry="3.4"  style="stroke-width:1.5"/>
<polyline class="dt" points="1440.5,924.7 1505,924.7"  style="stroke-dasharray:1.2 3.2"/>
<ellipse class="n" cx="1419.7" cy="946.3" rx="11.2" ry="5.6"  style="stroke-width:3.4"/>
<path class="n" d="M1411,949.5 Q1419.7,953.5 1428.5,949.5"  style="stroke-width:1.2;stroke:#fff"/>
<polyline class="ld" points="1432,946 1652,946" />
<path class="o" d="M1403.7,966.2 L1403.7,974.2 A16,7 0 0 0 1435.7,974.2 L1435.7,966.2"  style="stroke-width:1.3"/>
<ellipse class="o" cx="1419.7" cy="966.2" rx="16" ry="7"  style="stroke-width:1.3"/>
<ellipse class="n" cx="1419.7" cy="966.2" rx="6.5" ry="3"  style="stroke-width:1.3"/>
<polyline class="ld" points="1436.7,971.5 1506,971.5" />
<path class="o" d="M1379,968.8 L1379,975.2 Q1384.65,978.7 1390.3,975.2 L1390.3,968.8 Z"  style="stroke-width:1.5"/>
<ellipse class="f" cx="1384.65" cy="968.8" rx="5.649999999999977" ry="2.8" />
<path class="o" d="M1373.5,987.7 L1373.5,995 Q1379.5,998.5 1385.5,995 L1385.5,987.7 Z"  style="stroke-width:1.5"/>
<ellipse class="f" cx="1379.5" cy="987.7" rx="6.0" ry="2.8" />
<polyline class="ld" points="1248.3,997 1343,997" />
<polyline class="ld" points="1343,997 1379,970.5"  style="stroke-dasharray:4 1.5"/>
<polyline class="ld" points="1343,997 1373.3,991.4"  style="stroke-dasharray:4 1.5"/>
</g>
<g id="tube880b">
<path class="o" d="M1037.8,1012 L1089.4,992.1 L1178.5,1017.7 Q1190,1025 1189,1040 Q1188,1056 1174,1062 L1168.7,1061.5 Z"  style="stroke-width:1.4"/>
<path class="n" d="M1042.5,1012.3 L1090.7,993.9"  style="stroke-width:1.8"/>
<path class="n" d="M1037.8,1012 L1089.4,992.1"  style="stroke-width:1.8"/>
<path class="n" d="M1178.5,1017.7 Q1162,1022 1160,1040 Q1160,1055 1169,1061.5"  style="stroke-width:1.4"/>
<ellipse class="o" cx="1181" cy="1041.5" rx="6.3" ry="12"  style="stroke-width:3.4"/>
<path class="t" d="M1177.5,1032 L1177.5,1051 M1180.5,1030.5 L1180.5,1052.5 M1183.5,1030 L1183.5,1053"  style="stroke:#fff;stroke-width:0.8"/>
<path class="o" d="M1183,1030.5 L1190.5,1030.5 L1190.5,1052.5 L1183,1052.5 Z"  style="stroke:none"/>
<path class="n" d="M1183,1030.6 L1190.5,1030.5 M1183,1052.4 L1190.5,1052.5"  style="stroke-width:2"/>
<ellipse class="o" cx="1190.5" cy="1041.5" rx="7.4" ry="11"  style="stroke-width:2.4"/>
<polyline class="ld" points="1198.4,1039.7 1297.6,1019.1 1351,1033.8"  style="stroke-width:1.7"/>
</g>
<g id="hous2">
<polyline class="dt" points="1248.3,1094.7 1349,1094.7" />
<path class="o" d="M1380,1128 L1380,1182.8 Q1405,1192 1431,1182.8 L1431,1125 Z"  style="stroke-width:1.5"/>
<path class="n" d="M1380,1163 Q1405,1172 1431,1163" />
<path class="o" d="M1349,1060 Q1347,1095 1352,1112.7 L1361,1125 L1379.5,1134 L1399,1140 L1418,1136 L1431,1129.4 L1440.3,1117 L1443.3,1071.5 L1443.3,1060 Z"  style="stroke-width:1.6"/>
<path class="n" d="M1356,1078 L1359,1120 L1374,1125 L1390,1128 L1399,1140 M1390,1083 L1390,1128 M1387,1083 L1387,1127 M1414,1084 L1412,1124 L1399,1131 M1359,1120 L1361,1125 M1374,1125 L1376,1132 M1412,1124 L1418,1136"  style="stroke-width:1.3"/>
<path class="n" d="M1349,1066 Q1347.5,1095 1352,1112.7 L1361,1125 M1443.3,1071.5 L1440.3,1117 L1431,1129.4"  style="stroke-width:2.2"/>
<path class="n" d="M1362,1082 L1364,1118 M1400,1090 L1400,1128 M1372,1126 L1399,1133 L1418,1128"  style="stroke-width:1.3"/>
<path class="o" d="M1422,1086 Q1432,1078 1439,1086 Q1443,1100 1438,1116 Q1432,1128 1420,1127 Q1414,1110 1422,1086 Z"  style="stroke-width:1.6"/>
<path class="n" d="M1424,1092 Q1430,1086 1434,1092 Q1437,1102 1432,1114 Q1427,1120 1421,1117 Q1418,1104 1424,1092 Z"  style="stroke-width:1.6"/>
<path class="n" d="M1421,1108 Q1426,1112 1425,1120 M1419,1114 L1424,1116"  style="stroke-width:1.4"/>
<path class="o" d="M1353.4,1041 L1353.4,1071.5 Q1397,1104 1448.7,1065.5 L1448.7,1041"  style="stroke-width:1.8"/>
<path class="n" d="M1353.4,1068 Q1397,1100 1448.7,1062"  style="stroke-width:2.2"/>
<path class="n" d="M1370,1050 L1370,1078 M1430,1050 L1430,1072" />
<path class="o" d="M1353.4,1038 L1332.5,1037 L1332,1053 L1340,1059.5 L1353.4,1058 Z"  style="stroke-width:1.7"/>
<path class="n" d="M1332.5,1037 L1340,1043 L1340,1059.5 M1340,1043 L1353,1042"  style="stroke-width:1.4"/>
<path class="o" d="M1443,1028 L1442,1022 L1461,1021.5 L1462.4,1026 L1462,1042 L1453,1050 L1448.7,1050 Z"  style="stroke-width:1.7"/>
<path class="n" d="M1442,1027 L1453,1032 L1462.4,1026 M1453,1032 L1453,1050"  style="stroke-width:1.4"/>
<path class="o" d="M1361,1024 L1367,1006 L1380,1005 L1388,1008 L1394.5,1017 L1402,1019"  style="stroke-width:1.7"/>
<path class="n" d="M1371,1008 L1368,1022 M1376,1007 L1375,1020 M1381,1007 L1381,1019 M1386,1009 L1388,1019"  style="stroke-width:1.3"/>
<path class="o" d="M1350.3,1041 Q1351,1017 1398,1016.5 Q1446,1017 1446.4,1041 Q1446,1064 1398,1064.5 Q1351,1064 1350.3,1041 Z"  style="stroke-width:2.2"/>
<path class="n" d="M1352,1034 Q1360,1018.5 1398,1018 Q1438,1018.5 1445,1034"  style="stroke-width:3.6"/>
<path class="n" d="M1356,1047 Q1362,1056 1388,1059 M1416,1058.5 Q1436,1055 1441,1046"  style="stroke-width:2"/>
<path class="o" d="M1355,1042 Q1358,1024.5 1398,1024 Q1438,1024.5 1441.5,1042 Q1438,1047 1430,1051 L1414,1055 L1414,1048 L1409,1047 L1409,1055 L1396,1056 L1396,1049 L1388,1049 L1370,1050 Q1358,1048 1355,1042 Z"  style="stroke-width:1.5"/>
<path class="n" d="M1366,1037 L1370,1038.5 M1364,1038 L1371,1038" />
<path class="n" d="M1390,1052 L1390,1070 L1394,1072.5 L1410,1071 L1414.4,1067 L1414.4,1050"  style="stroke-width:1.7"/>
<path class="n" d="M1394,1056 L1394,1068 L1397,1070 L1408,1069 L1411,1066 L1411,1054 M1400,1058 L1400,1069 M1405,1058 L1405,1069"  style="stroke-width:1.3"/>
</g>
<g id="p52">
<path class="o" d="M1499.4,983 Q1502.5,980.5 1505.6,983 L1505.6,1007 L1499.4,1007 Z"  style="stroke-width:1.4"/>
<path class="t" d="M1501.5,984 L1501.5,1006" />
<path class="o" d="M1508,1006 L1513,1005 L1517,1009 L1517,1054 L1509,1060 L1508,1056 Z"  style="stroke-width:1.6"/>
<path class="o" d="M1496,1008 Q1496,1005 1499,1005 L1507,1005 L1508,1019 L1497,1020 Z"  style="stroke-width:1.6"/>
<path class="n" d="M1513,1005 L1513,1018 L1508,1019" />
<path class="o" d="M1481.5,1034 L1490,1030 L1498,1031 L1498,1039 L1488,1038 Z"  style="stroke-width:1.4"/>
<ellipse class="n" cx="1502.7" cy="1022" rx="5.2" ry="1.6"  style="stroke-width:1.5"/>
<ellipse class="n" cx="1502.7" cy="1026" rx="5.2" ry="1.6"  style="stroke-width:1.5"/>
<ellipse class="n" cx="1502.7" cy="1030" rx="5.2" ry="1.6"  style="stroke-width:1.5"/>
<ellipse class="n" cx="1502.7" cy="1034" rx="5.2" ry="1.6"  style="stroke-width:1.5"/>
<ellipse class="n" cx="1502.7" cy="1038" rx="5.2" ry="1.6"  style="stroke-width:1.5"/>
<ellipse class="n" cx="1502.7" cy="1042" rx="5.2" ry="1.6"  style="stroke-width:1.5"/>
<ellipse class="n" cx="1502.7" cy="1046" rx="5.2" ry="1.6"  style="stroke-width:1.5"/>
<path class="n" d="M1497.7,1020 L1497.7,1050 M1507.8,1020 L1507.8,1050"  style="stroke-width:1.4"/>
<path class="o" d="M1497,1050 L1508,1050 L1508,1056 L1504,1064 L1500,1066 L1496,1060 Z"  style="stroke-width:1.7"/>
<path class="hh" d="M1497,1056 L1503,1060 L1508,1056 M1509,1058 L1516,1053" />
<polyline class="ld" points="1517,1037.8 1653,1037.8" />
</g>
<g id="p48">
<ellipse class="o" cx="1515.4" cy="1091.3" rx="2" ry="2.2"  style="stroke-width:1.2"/>
<polyline class="ld" points="1517.7,1089 1652.6,1089" />
<polyline class="ld" points="1534.7,1108.3 1551.7,1096.5 1652.6,1096.5" />
<polyline class="dt" points="1554,1109.5 1652.6,1109.5"  style="stroke-dasharray:1.5 2.2"/>
<polyline class="dt" points="1652.6,1089 1652.6,1171.2"  style="stroke-dasharray:1.5 1.8"/>
<polyline class="dt" points="1637,1130.2 1647,1130.2" />
<polyline class="ld" points="1589.4,1149 1652.6,1149" />
<polyline class="ld" points="1491.8,1141.6 1543.6,1166"  style="stroke-dasharray:5 1.5"/>
<polyline class="ld" points="1543.6,1166 1652.6,1166" />
<polyline class="ld" points="1463,1126 1479.2,1171.2"  style="stroke-dasharray:5 1.5"/>
<polyline class="ld" points="1479.2,1171.2 1652.6,1171.2" />
<path class="n" d="M1526,1108 L1533,1112"  style="stroke-width:4.2"/>
<g transform="rotate(12 1487.3 1118)">
<ellipse class="o" cx="1487.3" cy="1118" rx="14.2" ry="27.2"  style="stroke-width:1.5"/>
<ellipse class="f" cx="1489.5" cy="1118.5" rx="8" ry="17"  style="fill:#555"/>
<ellipse class="n" cx="1489.5" cy="1118.5" rx="8" ry="17"  style="stroke-width:2"/>
<ellipse class="n" cx="1490" cy="1118.5" rx="3.5" ry="9"  style="stroke:#ddd;stroke-width:1.2"/>
<path class="n" d="M1474,1112 Q1474,1134 1484,1144"  style="stroke-dasharray:1.5 1"/>
</g>
<path class="o" d="M1457.5,1118.8 L1466.5,1121 L1466,1124 L1457,1121.8 Z"  style="stroke-width:1.1"/>
<g transform="rotate(10 1542 1131.2)">
<ellipse class="n" cx="1542" cy="1131.2" rx="12.8" ry="23.8"  style="stroke-width:1.4"/>
<ellipse class="n" cx="1542" cy="1131.2" rx="10.6" ry="21.6"  style="stroke-width:1.2"/>
</g>
<path class="o" d="M1573,1118 Q1583,1113 1588,1120 Q1591.5,1130 1590,1148 Q1589,1158 1583,1162 L1574,1163 Q1564,1160 1561,1146 Q1560,1128 1573,1118 Z"  style="stroke-width:2"/>
<path class="n" d="M1573,1118 Q1571,1140 1574,1163 M1576.5,1122 Q1575,1142 1577.5,1161"  style="stroke-width:1.7"/>
<path class="hh" d="M1565,1128 Q1562,1145 1568,1158" />
<path class="h" d="M1582,1122 L1586,1128 M1584,1134 L1588,1136 M1584,1146 L1588,1147 M1581,1157 L1585,1155" />
<path class="n" d="M1600,1127.5 L1611,1131"  style="stroke-width:2.6"/>
<ellipse class="f" cx="1611.5" cy="1131" rx="2.4" ry="3" />
</g>
<g id="rbottom">
<path class="n" d="M1343.4,1218 L1343.4,1258"  style="stroke-width:4;stroke:#1a1a1a;stroke-dasharray:1.6 0.4"/>
<path class="n" d="M1343.4,1240 L1343.4,1258"  style="stroke-width:3.4;stroke:#2a2a2a"/>
<ellipse class="f" cx="1343.4" cy="1259.2" rx="4.6" ry="2.2" />
<path class="n" d="M1376,1187.7 L1376,1226"  style="stroke-width:4;stroke:#1a1a1a;stroke-dasharray:1.6 0.4"/>
<path class="n" d="M1376,1209.7 L1376,1226"  style="stroke-width:3.4;stroke:#2a2a2a"/>
<ellipse class="f" cx="1376" cy="1227.2" rx="4.6" ry="2.2" />
<path class="n" d="M1403,1232.2 L1403,1271"  style="stroke-width:4;stroke:#1a1a1a;stroke-dasharray:1.6 0.4"/>
<path class="n" d="M1403,1254.2 L1403,1271"  style="stroke-width:3.4;stroke:#2a2a2a"/>
<ellipse class="f" cx="1403" cy="1272.2" rx="4.6" ry="2.2" />
<path class="n" d="M1452.4,1205 L1452.4,1243.2"  style="stroke-width:4;stroke:#1a1a1a;stroke-dasharray:1.6 0.4"/>
<path class="n" d="M1452.4,1227 L1452.4,1243.2"  style="stroke-width:3.4;stroke:#2a2a2a"/>
<ellipse class="f" cx="1452.4" cy="1244.4" rx="4.6" ry="2.2" />
<polyline class="ld" points="1248.4,1242.3 1341,1242.3" />
<polyline class="ld" points="1248.4,1295.7 1395.5,1295.7" />
<ellipse class="n" cx="1406.8" cy="1294.7" rx="10.6" ry="6"  style="stroke-width:1.8"/>
<ellipse class="n" cx="1405.8" cy="1295.2" rx="8" ry="4.2"  style="stroke-width:1.3"/>
<path class="o" d="M1382.4,1323.7 L1382.4,1336.7 A22.8,9 0 0 0 1428.0,1336.7 L1428.0,1323.7"  style="stroke-width:1.4"/>
<ellipse class="o" cx="1405.2" cy="1323.7" rx="22.8" ry="9"  style="stroke-width:1.4"/>
<ellipse class="n" cx="1405.2" cy="1323.7" rx="9" ry="3.8"  style="stroke-width:1.4"/>
<polyline class="ld" points="1428,1331.5 1506,1331.5" />
<polyline class="ld" points="1248.4,1400.8 1362.3,1400.8" />
<path class="o" d="M1363,1399 L1367,1395.5 L1370.5,1397.5 L1370.8,1403 L1367.5,1406.5 L1363.5,1404.5 Z"  style="stroke-width:1.5"/>
<path class="n" d="M1367,1395.5 L1367.5,1401 L1363,1399 M1367.5,1401 L1367.5,1406.5" />
<path class="o" d="M1393.3,1441 L1393.3,1488 Q1405.7,1496 1418.2,1488 L1418.2,1441 Q1405.7,1435 1393.3,1441 Z"  style="stroke-width:1.6"/>
<path class="n" d="M1411,1484 L1411,1491 M1411,1484 L1418,1482"  style="stroke-width:1.4"/>
<path class="o" d="M1395.5,1388 L1395.5,1441 Q1405,1446 1415,1441 L1415,1388 Z"  style="stroke-width:1.6"/>
<path class="n" d="M1395.5,1408 Q1405,1412 1415,1408 M1395.5,1440 Q1405,1445 1415,1440"  style="stroke-width:1.3"/>
<path class="n" d="M1395.5,1427 Q1405,1431.5 1415,1427"  style="stroke-width:2.6"/>
<path class="o" d="M1397.2,1364 L1397.2,1389 Q1405,1393 1413.3,1389 L1413.3,1364 Q1405,1358 1397.2,1364 Z"  style="stroke-width:1.8"/>
<path class="f" d="M1398,1363 Q1405,1358.5 1412.5,1363 L1412.5,1368 Q1405,1371 1398,1368 Z" />
<path class="n" d="M1400,1368 L1400,1382 M1404,1370 L1404,1378 L1400,1378"  style="stroke-width:1.6"/>
<polyline class="ld" points="1415,1421 1506,1421" />
<polyline class="dt" points="1248.4,1517 1382.4,1517" />
<ellipse class="o" cx="1405.2" cy="1517.3" rx="22.6" ry="9.6"  style="stroke-width:1.5"/>
<ellipse class="n" cx="1405.5" cy="1518.3" rx="12.5" ry="5.2"  style="stroke-width:2.4"/>
<path class="n" d="M1383,1519.5 Q1390,1529.5 1406,1528.5 Q1422,1528 1427.5,1519"  style="stroke-width:1.2"/>
<path class="n" d="M1392,1563 Q1381,1558 1384,1552 Q1390,1544.5 1406,1544.5 Q1424,1545 1428,1553 Q1429,1561 1418,1565 Q1410,1567 1400,1566.5"  style="stroke-width:2.4"/>
<path class="n" d="M1391,1559.5 Q1388,1555 1393,1551.5 Q1400,1548.5 1410,1549"  style="stroke-width:1.2"/>
<ellipse class="n" cx="1391.5" cy="1561.5" rx="2.2" ry="2.2"  style="stroke-width:1.4"/>
<path class="hh" d="M1400,1565 L1410,1565.5" />
<polyline class="ld" points="1429,1556.3 1506,1556.3" />
</g>
<g id="labels" style="opacity:0.995">
<text transform="translate(342,34) scale(0.7,1)" font-size="35.7" text-anchor="start">37</text>
<text transform="translate(342,98) scale(0.7,1)" font-size="35.7" text-anchor="start">16</text>
<text transform="translate(630,157) scale(0.7,1)" font-size="35.7" text-anchor="start">39</text>
<text transform="translate(342,180) scale(0.7,1)" font-size="35.7" text-anchor="start">49</text>
<text transform="translate(630,222) scale(0.7,1)" font-size="35.7" text-anchor="start">41</text>
<text transform="translate(342,267) scale(0.7,1)" font-size="35.7" text-anchor="start">33</text>
<text transform="translate(630,295) scale(0.7,1)" font-size="35.7" text-anchor="start">37</text>
<text transform="translate(342,328) scale(0.7,1)" font-size="35.7" text-anchor="start">42</text>
<text transform="translate(630,357) scale(0.7,1)" font-size="35.7" text-anchor="start">35</text>
<text transform="translate(630,420) scale(0.7,1)" font-size="35.7" text-anchor="start">77</text>
<text transform="translate(27,450) scale(0.7,1)" font-size="35.7" text-anchor="start">44</text>
<text transform="translate(816,452) scale(0.7,1)" font-size="35.7" text-anchor="start">46</text>
<text transform="translate(816,493) scale(0.7,1)" font-size="35.7" text-anchor="start">45</text>
<text transform="translate(27,558) scale(0.7,1)" font-size="35.7" text-anchor="start">43</text>
<text transform="translate(920,572) scale(0.7,1)" font-size="35.7" text-anchor="start">43</text>
<text transform="translate(205,619) scale(0.7,1)" font-size="35.7" text-anchor="start">20</text>
<text transform="translate(920,672) scale(0.7,1)" font-size="35.7" text-anchor="start">44</text>
<text transform="translate(342,722) scale(0.7,1)" font-size="35.7" text-anchor="start">25</text>
<text transform="translate(630,749) scale(0.7,1)" font-size="35.7" text-anchor="start">40</text>
<text transform="translate(630,795) scale(0.7,1)" font-size="35.7" text-anchor="start">37</text>
<text transform="translate(342,814) scale(0.7,1)" font-size="35.7" text-anchor="start">24</text>
<text transform="translate(630,841) scale(0.7,1)" font-size="35.7" text-anchor="start">23</text>
<text transform="translate(1,841) scale(0.7,1)" font-size="35.7" text-anchor="start">1001</text>
<text transform="translate(947,855) scale(0.7,1)" font-size="35.7" text-anchor="start">32</text>
<text transform="translate(947,905) scale(0.7,1)" font-size="35.7" text-anchor="start">39</text>
<text transform="translate(342,911) scale(0.7,1)" font-size="35.7" text-anchor="start">22</text>
<text transform="translate(947,989) scale(0.7,1)" font-size="35.7" text-anchor="start">29</text>
<text transform="translate(342,1001) scale(0.7,1)" font-size="35.7" text-anchor="start">21</text>
<text transform="translate(947,1066) scale(0.7,1)" font-size="35.7" text-anchor="start">34</text>
<text transform="translate(342,1079) scale(0.7,1)" font-size="35.7" text-anchor="start">26</text>
<text transform="translate(592,942) scale(0.7,1)" font-size="35.7" text-anchor="start">885</text>
<text transform="translate(864,1130) scale(0.7,1)" font-size="35.7" text-anchor="start">885</text>
<text transform="translate(866,1182) scale(0.7,1)" font-size="35.7" text-anchor="start">3 g</text>
<text transform="translate(866,1224) scale(0.7,1)" font-size="35.7" text-anchor="start">0.1 oz</text>
<text transform="translate(811,1241) scale(0.7,1)" font-size="35.7" text-anchor="start">1</text>
<text transform="translate(205,1264) scale(0.7,1)" font-size="35.7" text-anchor="start">76</text>
<text transform="translate(205,1364) scale(0.7,1)" font-size="35.7" text-anchor="start">37</text>
<text transform="translate(816,1366) scale(0.7,1)" font-size="35.7" text-anchor="start">31</text>
<text transform="translate(816,1516) scale(0.7,1)" font-size="35.7" text-anchor="start">30</text>
<text transform="translate(1212,105) scale(0.7,1)" font-size="35.7" text-anchor="start">47</text>
<text transform="translate(1516,129) scale(0.7,1)" font-size="35.7" text-anchor="start">28</text>
<text transform="translate(1516,173) scale(0.7,1)" font-size="35.7" text-anchor="start">18</text>
<text transform="translate(1516,266) scale(0.7,1)" font-size="35.7" text-anchor="start">17</text>
<text transform="translate(1228,317) scale(0.7,1)" font-size="35.7" text-anchor="start">880</text>
<text transform="translate(1230,364) scale(0.7,1)" font-size="35.7" text-anchor="start">15 g</text>
<text transform="translate(1229,404) scale(0.7,1)" font-size="35.7" text-anchor="start">0.5 oz</text>
<text transform="translate(1516,373) scale(0.7,1)" font-size="35.7" text-anchor="start">19</text>
<text transform="translate(1516,429) scale(0.7,1)" font-size="35.7" text-anchor="start">15</text>
<text transform="translate(1516,510) scale(0.7,1)" font-size="35.7" text-anchor="start">3</text>
<text transform="translate(1516,566) scale(0.7,1)" font-size="35.7" text-anchor="start">27</text>
<text transform="translate(1226,581) scale(0.7,1)" font-size="35.7" text-anchor="start">8</text>
<text transform="translate(1516,615) scale(0.7,1)" font-size="35.7" text-anchor="start">14</text>
<text transform="translate(1516,663) scale(0.7,1)" font-size="35.7" text-anchor="start">11</text>
<text transform="translate(1212,685) scale(0.7,1)" font-size="35.7" text-anchor="start">12</text>
<text transform="translate(1516,714) scale(0.7,1)" font-size="35.7" text-anchor="start">54</text>
<text transform="translate(1212,745) scale(0.7,1)" font-size="35.7" text-anchor="start">59</text>
<text transform="translate(1516,824) scale(0.7,1)" font-size="35.7" text-anchor="start">55</text>
<text transform="translate(1226,832) scale(0.7,1)" font-size="35.7" text-anchor="start">7</text>
<text transform="translate(1516,868) scale(0.7,1)" font-size="35.7" text-anchor="start">54</text>
<text transform="translate(1226,882) scale(0.7,1)" font-size="35.7" text-anchor="start">5</text>
<text transform="translate(1660,912) scale(0.7,1)" font-size="35.7" text-anchor="start">60</text>
<text transform="translate(1516,936) scale(0.7,1)" font-size="35.7" text-anchor="start">6</text>
<text transform="translate(1212,955) scale(0.7,1)" font-size="35.7" text-anchor="start">54</text>
<text transform="translate(1660,958) scale(0.7,1)" font-size="35.7" text-anchor="start">58</text>
<text transform="translate(1516,980) scale(0.7,1)" font-size="35.7" text-anchor="start">9</text>
<text transform="translate(1226,1009) scale(0.7,1)" font-size="35.7" text-anchor="start">8</text>
<text transform="translate(1102,1032) scale(0.7,1)" font-size="35.7" text-anchor="start">880</text>
<text transform="translate(1660,1051) scale(0.7,1)" font-size="35.7" text-anchor="start">52</text>
<text transform="translate(1102,1092) scale(0.7,1)" font-size="35.7" text-anchor="start">125 g</text>
<text transform="translate(1226,1107) scale(0.7,1)" font-size="35.7" text-anchor="start">2</text>
<text transform="translate(1101,1129) scale(0.7,1)" font-size="35.7" text-anchor="start">4.4 oz</text>
<text transform="translate(1660,1140) scale(0.7,1)" font-size="35.7" text-anchor="start">48</text>
<text transform="translate(1212,1253) scale(0.7,1)" font-size="35.7" text-anchor="start">38</text>
<text transform="translate(1212,1305) scale(0.7,1)" font-size="35.7" text-anchor="start">13</text>
<text transform="translate(1516,1341) scale(0.7,1)" font-size="35.7" text-anchor="start">10</text>
<text transform="translate(1212,1410) scale(0.7,1)" font-size="35.7" text-anchor="start">57</text>
<text transform="translate(1516,1430) scale(0.7,1)" font-size="35.7" text-anchor="start">4</text>
<text transform="translate(1212,1527) scale(0.7,1)" font-size="35.7" text-anchor="start">53</text>
<text transform="translate(1516,1567) scale(0.7,1)" font-size="35.7" text-anchor="start">56</text>
</g>
</svg>
</body></html>
